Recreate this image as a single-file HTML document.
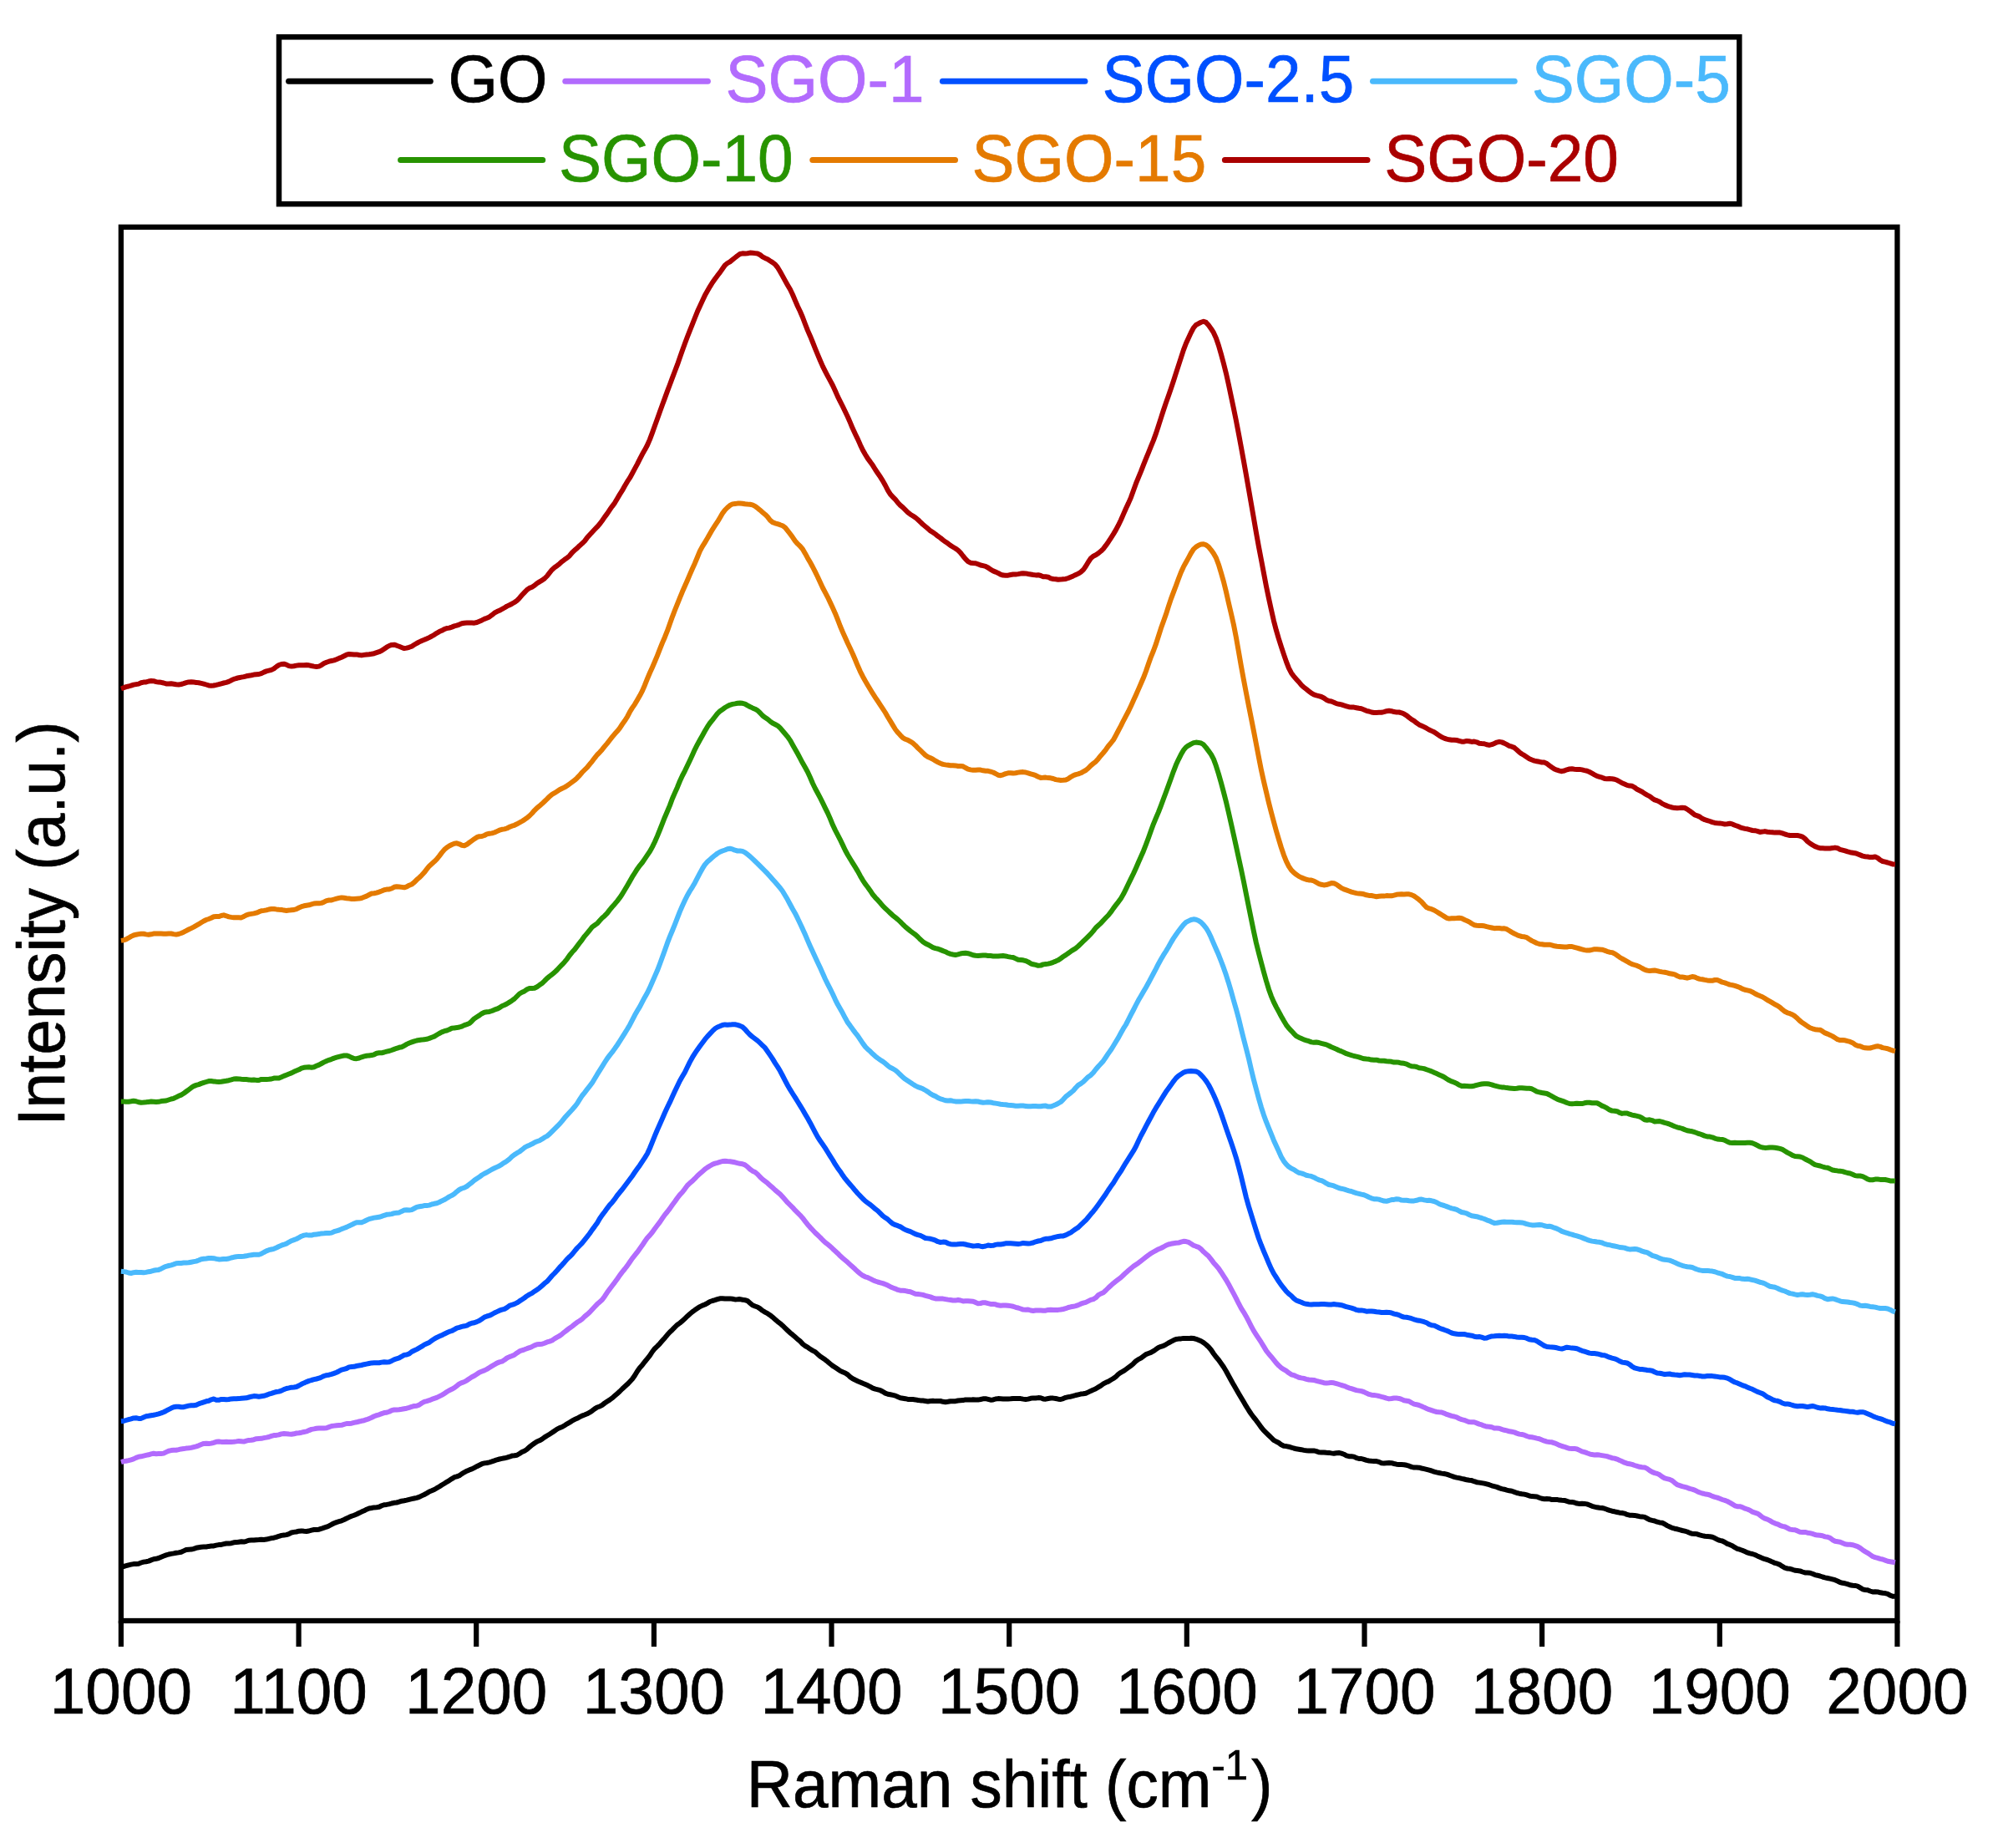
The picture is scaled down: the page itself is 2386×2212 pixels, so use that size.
<!DOCTYPE html>
<html lang="en"><head><meta charset="utf-8"><title>Raman spectra</title>
<style>
html,body{margin:0;padding:0;background:#fff;}
body{width:2386px;height:2212px;overflow:hidden;}
svg{display:block;}
text{font-family:"Liberation Sans", sans-serif;font-size:76.5px;stroke-width:0.7px;}
.curves path{fill:none;stroke-width:6;stroke-linejoin:round;stroke-linecap:butt;}
.ax line{stroke:#000;stroke-width:6.2;}
</style></head>
<body>
<svg width="2386" height="2212" viewBox="0 0 2386 2212">
<rect x="0" y="0" width="2386" height="2212" fill="#fff"/>
<defs><clipPath id="cp"><rect x="144.3" y="271.8" width="2127.5" height="1668.2"/></clipPath></defs>
<rect x="144.9" y="271.8" width="2126.5" height="1668.2" fill="none" stroke="#000" stroke-width="6.3"/>
<g class="curves" clip-path="url(#cp)">
<path d="M144.9,1875.5 L147.9,1875.0 L150.9,1874.2 L153.9,1873.3 L156.9,1872.6 L159.9,1872.1 L162.9,1872.0 L165.9,1871.7 L168.9,1870.5 L171.9,1869.6 L174.9,1869.2 L177.9,1868.6 L180.9,1867.4 L183.9,1866.3 L186.9,1865.8 L189.9,1865.0 L192.9,1863.7 L195.9,1862.5 L198.9,1861.4 L201.9,1860.5 L204.9,1859.9 L207.9,1859.4 L210.9,1858.8 L213.9,1858.4 L216.9,1857.8 L219.9,1856.4 L222.9,1855.0 L225.9,1854.7 L228.9,1854.6 L231.9,1853.8 L234.9,1852.8 L237.9,1852.2 L240.9,1851.7 L243.9,1851.6 L246.9,1851.5 L249.9,1850.9 L252.9,1850.6 L255.9,1850.4 L258.9,1849.6 L261.9,1849.1 L264.9,1848.9 L267.9,1848.2 L270.9,1847.5 L273.9,1847.5 L276.9,1847.2 L279.9,1846.3 L282.9,1846.1 L285.9,1845.7 L288.9,1845.3 L291.9,1845.6 L294.9,1844.8 L297.9,1843.7 L300.9,1843.6 L303.9,1843.6 L306.9,1843.3 L309.9,1843.1 L312.9,1842.8 L315.9,1842.9 L318.9,1842.6 L321.9,1841.8 L324.9,1841.1 L327.9,1840.7 L330.9,1839.9 L333.9,1838.8 L336.9,1837.9 L339.9,1837.5 L342.9,1837.1 L345.9,1836.1 L348.9,1834.5 L351.9,1833.9 L354.9,1833.5 L357.9,1832.7 L360.9,1832.4 L363.9,1832.8 L366.9,1833.0 L369.9,1832.5 L372.9,1831.6 L375.9,1831.0 L378.9,1831.0 L381.9,1830.7 L384.9,1829.7 L387.9,1828.6 L390.9,1827.7 L393.9,1826.4 L396.9,1824.8 L399.9,1823.3 L402.9,1822.1 L405.9,1821.2 L408.9,1820.3 L411.9,1819.0 L414.9,1817.5 L417.9,1816.1 L420.9,1814.8 L423.9,1813.7 L426.9,1812.5 L429.9,1811.0 L432.9,1809.6 L435.9,1808.3 L438.9,1806.7 L441.9,1805.5 L444.9,1805.0 L447.9,1804.4 L450.9,1804.2 L453.9,1803.8 L456.9,1802.3 L459.9,1801.2 L462.9,1800.9 L465.9,1800.4 L468.9,1799.5 L471.9,1798.8 L474.9,1798.5 L477.9,1797.7 L480.9,1796.7 L483.9,1796.2 L486.9,1795.6 L489.9,1794.8 L492.9,1794.1 L495.9,1793.5 L498.9,1792.9 L501.9,1791.9 L504.9,1790.4 L507.9,1789.0 L510.9,1787.4 L513.9,1785.5 L516.9,1784.3 L519.9,1783.0 L522.9,1781.2 L525.9,1779.5 L528.9,1777.5 L531.9,1775.7 L534.9,1773.8 L537.9,1772.1 L540.9,1770.1 L543.9,1768.2 L546.9,1767.4 L549.9,1766.2 L552.9,1764.1 L555.9,1762.3 L558.9,1760.7 L561.9,1759.4 L564.9,1758.4 L567.9,1756.8 L570.9,1755.2 L573.9,1753.7 L576.9,1752.2 L579.9,1751.4 L582.9,1751.0 L585.9,1750.3 L588.9,1749.4 L591.9,1748.4 L594.9,1747.3 L597.9,1746.5 L600.9,1745.9 L603.9,1745.3 L606.9,1744.6 L609.9,1743.7 L612.9,1742.6 L615.9,1742.3 L618.9,1741.8 L621.9,1740.0 L624.9,1738.0 L627.9,1736.7 L630.9,1734.8 L633.9,1732.0 L636.9,1729.7 L639.9,1727.5 L642.9,1725.5 L645.9,1724.3 L648.9,1722.6 L651.9,1720.4 L654.9,1718.5 L657.9,1716.7 L660.9,1714.8 L663.9,1712.7 L666.9,1710.6 L669.9,1709.1 L672.9,1708.0 L675.9,1706.2 L678.9,1704.3 L681.9,1702.6 L684.9,1700.7 L687.9,1699.1 L690.9,1697.8 L693.9,1696.2 L696.9,1694.6 L699.9,1693.5 L702.9,1692.3 L705.9,1690.7 L708.9,1688.7 L711.9,1686.4 L714.9,1684.5 L717.9,1683.5 L720.9,1681.8 L723.9,1679.5 L726.9,1677.5 L729.9,1675.6 L732.9,1673.4 L735.9,1670.8 L738.9,1668.2 L741.9,1665.5 L744.9,1662.5 L747.9,1659.8 L750.9,1657.1 L753.9,1654.0 L756.9,1650.8 L759.9,1646.5 L762.9,1641.4 L765.9,1637.2 L768.9,1633.9 L771.9,1630.0 L774.9,1626.4 L777.9,1622.7 L780.9,1618.0 L783.9,1614.2 L786.9,1611.4 L789.9,1608.3 L792.9,1604.8 L795.9,1601.4 L798.9,1597.8 L801.9,1594.5 L804.9,1591.7 L807.9,1588.6 L810.9,1585.7 L813.9,1583.6 L816.9,1581.2 L819.9,1578.3 L822.9,1575.4 L825.9,1572.7 L828.9,1570.2 L831.9,1568.1 L834.9,1566.1 L837.9,1564.1 L840.9,1562.6 L843.9,1561.5 L846.9,1559.9 L849.9,1558.0 L852.9,1557.0 L855.9,1556.2 L858.9,1555.2 L861.9,1554.3 L864.9,1554.3 L867.9,1554.6 L870.9,1554.5 L873.9,1554.4 L876.9,1554.8 L879.9,1555.4 L882.9,1555.3 L885.9,1555.1 L888.9,1555.7 L891.9,1556.1 L894.9,1557.1 L897.9,1559.7 L900.9,1562.3 L903.9,1563.5 L906.9,1564.5 L909.9,1566.4 L912.9,1568.8 L915.9,1570.6 L918.9,1572.2 L921.9,1574.2 L924.9,1576.6 L927.9,1579.2 L930.9,1581.8 L933.9,1584.1 L936.9,1586.7 L939.9,1589.6 L942.9,1592.5 L945.9,1595.3 L948.9,1597.7 L951.9,1600.3 L954.9,1602.9 L957.9,1605.4 L960.9,1608.6 L963.9,1611.0 L966.9,1612.6 L969.9,1614.8 L972.9,1616.6 L975.9,1618.1 L978.9,1620.9 L981.9,1623.6 L984.9,1625.6 L987.9,1627.6 L990.9,1629.9 L993.9,1632.5 L996.9,1634.9 L999.9,1636.8 L1002.9,1638.8 L1005.9,1640.9 L1008.9,1642.3 L1011.9,1643.5 L1014.9,1645.4 L1017.9,1648.2 L1020.9,1650.3 L1023.9,1651.8 L1026.9,1653.2 L1029.9,1654.5 L1032.9,1655.8 L1035.9,1657.0 L1038.9,1658.3 L1041.9,1659.9 L1044.9,1661.6 L1047.9,1662.6 L1050.9,1663.3 L1053.9,1664.2 L1056.9,1665.7 L1059.9,1667.6 L1062.9,1668.7 L1065.9,1669.3 L1068.9,1669.9 L1071.9,1670.6 L1074.9,1672.0 L1077.9,1673.2 L1080.9,1673.7 L1083.9,1674.2 L1086.9,1674.9 L1089.9,1675.1 L1092.9,1675.1 L1095.9,1675.4 L1098.9,1676.0 L1101.9,1676.4 L1104.9,1676.5 L1107.9,1677.0 L1110.9,1677.5 L1113.9,1677.0 L1116.9,1676.7 L1119.9,1677.1 L1122.9,1677.0 L1125.9,1677.0 L1128.9,1677.8 L1131.9,1678.3 L1134.9,1677.8 L1137.9,1677.2 L1140.9,1677.2 L1143.9,1677.2 L1146.9,1676.5 L1149.9,1676.2 L1152.9,1676.1 L1155.9,1675.4 L1158.9,1675.4 L1161.9,1675.6 L1164.9,1675.2 L1167.9,1675.4 L1170.9,1675.6 L1173.9,1675.0 L1176.9,1674.3 L1179.9,1674.2 L1182.9,1674.9 L1185.9,1675.7 L1188.9,1675.4 L1191.9,1674.5 L1194.9,1674.1 L1197.9,1674.3 L1200.9,1674.5 L1203.9,1674.4 L1206.9,1674.4 L1209.9,1674.3 L1212.9,1674.0 L1215.9,1674.0 L1218.9,1674.1 L1221.9,1674.1 L1224.9,1674.6 L1227.9,1675.0 L1230.9,1674.6 L1233.9,1673.8 L1236.9,1673.4 L1239.9,1673.5 L1242.9,1673.1 L1245.9,1673.3 L1248.9,1674.4 L1251.9,1674.7 L1254.9,1674.0 L1257.9,1673.5 L1260.9,1673.6 L1263.9,1674.0 L1266.9,1674.7 L1269.9,1675.0 L1272.9,1674.1 L1275.9,1672.8 L1278.9,1672.1 L1281.9,1671.7 L1284.9,1670.9 L1287.9,1670.0 L1290.9,1669.3 L1293.9,1668.6 L1296.9,1668.3 L1299.9,1667.8 L1302.9,1666.4 L1305.9,1664.9 L1308.9,1663.6 L1311.9,1662.2 L1314.9,1660.4 L1317.9,1658.6 L1320.9,1656.4 L1323.9,1654.8 L1326.9,1653.6 L1329.9,1651.8 L1332.9,1650.0 L1335.9,1647.8 L1338.9,1644.9 L1341.9,1642.8 L1344.9,1641.2 L1347.9,1639.1 L1350.9,1636.9 L1353.9,1634.8 L1356.9,1632.2 L1359.9,1629.2 L1362.9,1627.1 L1365.9,1625.6 L1368.9,1623.3 L1371.9,1621.1 L1374.9,1620.0 L1377.9,1618.9 L1380.9,1617.2 L1383.9,1615.1 L1386.9,1613.1 L1389.9,1611.8 L1392.9,1610.9 L1395.9,1609.3 L1398.9,1607.5 L1401.9,1605.9 L1404.9,1604.3 L1407.9,1603.0 L1410.9,1602.6 L1413.9,1602.4 L1416.9,1601.9 L1419.9,1602.1 L1422.9,1602.1 L1425.9,1601.7 L1428.9,1602.0 L1431.9,1602.8 L1434.9,1604.0 L1437.9,1605.3 L1440.9,1607.1 L1443.9,1609.5 L1446.9,1612.3 L1449.9,1615.8 L1452.9,1620.2 L1455.9,1624.2 L1458.9,1627.7 L1461.9,1631.9 L1464.9,1636.3 L1467.9,1641.2 L1470.9,1646.7 L1473.9,1652.2 L1476.9,1657.6 L1479.9,1662.7 L1482.9,1667.9 L1485.9,1673.0 L1488.9,1678.1 L1491.9,1683.2 L1494.9,1688.0 L1497.9,1692.5 L1500.9,1696.5 L1503.9,1700.2 L1506.9,1704.3 L1509.9,1708.5 L1512.9,1712.1 L1515.9,1715.1 L1518.9,1718.0 L1521.9,1720.9 L1524.9,1723.8 L1527.9,1725.5 L1530.9,1727.0 L1533.9,1729.3 L1536.9,1730.8 L1539.9,1731.1 L1542.9,1731.7 L1545.9,1732.6 L1548.9,1733.5 L1551.9,1734.3 L1554.9,1734.7 L1557.9,1735.2 L1560.9,1735.9 L1563.9,1736.3 L1566.9,1736.6 L1569.9,1736.6 L1572.9,1736.4 L1575.9,1737.1 L1578.9,1738.3 L1581.9,1738.5 L1584.9,1738.4 L1587.9,1738.7 L1590.9,1738.9 L1593.9,1739.4 L1596.9,1739.8 L1599.9,1739.2 L1602.9,1739.0 L1605.9,1739.6 L1608.9,1740.7 L1611.9,1742.3 L1614.9,1743.2 L1617.9,1743.2 L1620.9,1743.6 L1623.9,1745.1 L1626.9,1746.0 L1629.9,1746.0 L1632.9,1746.9 L1635.9,1747.9 L1638.9,1748.5 L1641.9,1748.8 L1644.9,1748.9 L1647.9,1749.1 L1650.9,1749.9 L1653.9,1751.3 L1656.9,1751.6 L1659.9,1751.3 L1662.9,1751.0 L1665.9,1751.2 L1668.9,1752.0 L1671.9,1752.7 L1674.9,1753.0 L1677.9,1753.1 L1680.9,1753.2 L1683.9,1753.8 L1686.9,1754.7 L1689.9,1755.9 L1692.9,1756.6 L1695.9,1756.4 L1698.9,1756.7 L1701.9,1757.5 L1704.9,1758.2 L1707.9,1758.9 L1710.9,1759.7 L1713.9,1760.5 L1716.9,1761.6 L1719.9,1762.4 L1722.9,1763.0 L1725.9,1763.6 L1728.9,1764.0 L1731.9,1764.7 L1734.9,1765.7 L1737.9,1766.8 L1740.9,1767.9 L1743.9,1768.6 L1746.9,1769.1 L1749.9,1769.9 L1752.9,1770.5 L1755.9,1771.3 L1758.9,1771.8 L1761.9,1772.1 L1764.9,1773.2 L1767.9,1774.2 L1770.9,1774.6 L1773.9,1775.1 L1776.9,1775.6 L1779.9,1776.3 L1782.9,1777.2 L1785.9,1778.3 L1788.9,1779.1 L1791.9,1779.9 L1794.9,1781.1 L1797.9,1782.1 L1800.9,1782.7 L1803.9,1783.6 L1806.9,1784.3 L1809.9,1784.8 L1812.9,1785.9 L1815.9,1787.0 L1818.9,1787.7 L1821.9,1788.2 L1824.9,1788.6 L1827.9,1789.4 L1830.9,1790.5 L1833.9,1791.1 L1836.9,1791.3 L1839.9,1791.5 L1842.9,1792.7 L1845.9,1793.8 L1848.9,1794.3 L1851.9,1794.1 L1854.9,1794.2 L1857.9,1795.1 L1860.9,1795.1 L1863.9,1794.9 L1866.9,1795.6 L1869.9,1795.8 L1872.9,1795.9 L1875.9,1796.9 L1878.9,1797.8 L1881.9,1797.9 L1884.9,1798.5 L1887.9,1799.6 L1890.9,1799.9 L1893.9,1799.8 L1896.9,1799.9 L1899.9,1800.4 L1902.9,1801.5 L1905.9,1802.8 L1908.9,1803.6 L1911.9,1804.3 L1914.9,1804.8 L1917.9,1805.0 L1920.9,1805.7 L1923.9,1806.8 L1926.9,1807.8 L1929.9,1808.7 L1932.9,1809.3 L1935.9,1810.0 L1938.9,1810.7 L1941.9,1811.0 L1944.9,1811.6 L1947.9,1812.9 L1950.9,1813.7 L1953.9,1813.8 L1956.9,1813.9 L1959.9,1814.5 L1962.9,1815.2 L1965.9,1815.4 L1968.9,1815.9 L1971.9,1817.5 L1974.9,1819.1 L1977.9,1819.9 L1980.9,1820.5 L1983.9,1821.7 L1986.9,1822.4 L1989.9,1822.7 L1992.9,1824.2 L1995.9,1826.1 L1998.9,1827.5 L2001.9,1828.9 L2004.9,1829.7 L2007.9,1830.3 L2010.9,1831.2 L2013.9,1832.0 L2016.9,1832.6 L2019.9,1833.5 L2022.9,1834.9 L2025.9,1835.8 L2028.9,1835.9 L2031.9,1836.3 L2034.9,1837.3 L2037.9,1838.1 L2040.9,1838.7 L2043.9,1839.1 L2046.9,1839.2 L2049.9,1839.8 L2052.9,1841.1 L2055.9,1842.7 L2058.9,1843.9 L2061.9,1844.5 L2064.9,1846.0 L2067.9,1847.9 L2070.9,1848.9 L2073.9,1850.2 L2076.9,1852.2 L2079.9,1853.8 L2082.9,1854.7 L2085.9,1855.8 L2088.9,1857.1 L2091.9,1858.4 L2094.9,1859.4 L2097.9,1860.0 L2100.9,1861.0 L2103.9,1862.4 L2106.9,1863.7 L2109.9,1865.1 L2112.9,1866.2 L2115.9,1867.0 L2118.9,1868.2 L2121.9,1869.6 L2124.9,1870.9 L2127.9,1871.7 L2130.9,1872.9 L2133.9,1874.9 L2136.9,1876.7 L2139.9,1877.5 L2142.9,1877.8 L2145.9,1878.7 L2148.9,1879.8 L2151.9,1880.1 L2154.9,1880.4 L2157.9,1881.5 L2160.9,1882.4 L2163.9,1882.5 L2166.9,1882.7 L2169.9,1883.8 L2172.9,1885.1 L2175.9,1885.7 L2178.9,1886.5 L2181.9,1887.5 L2184.9,1888.3 L2187.9,1889.0 L2190.9,1889.7 L2193.9,1890.4 L2196.9,1891.2 L2199.9,1892.5 L2202.9,1894.0 L2205.9,1894.8 L2208.9,1895.3 L2211.9,1896.1 L2214.9,1897.2 L2217.9,1897.8 L2220.9,1897.9 L2223.9,1898.6 L2226.9,1900.4 L2229.9,1902.3 L2232.9,1903.0 L2235.9,1903.3 L2238.9,1904.5 L2241.9,1905.4 L2244.9,1905.2 L2247.9,1905.4 L2250.9,1906.3 L2253.9,1906.8 L2256.9,1907.1 L2259.9,1907.9 L2262.9,1909.6 L2265.9,1910.7 L2268.9,1910.8" stroke="#000000"/>
<path d="M144.9,1750.1 L147.9,1749.1 L150.9,1748.7 L153.9,1748.1 L156.9,1747.3 L159.9,1746.4 L162.9,1744.9 L165.9,1743.7 L168.9,1743.3 L171.9,1742.6 L174.9,1741.9 L177.9,1741.3 L180.9,1740.4 L183.9,1739.8 L186.9,1740.2 L189.9,1740.1 L192.9,1740.0 L195.9,1739.6 L198.9,1738.1 L201.9,1736.7 L204.9,1736.1 L207.9,1735.8 L210.9,1735.7 L213.9,1735.1 L216.9,1734.4 L219.9,1734.1 L222.9,1733.6 L225.9,1733.3 L228.9,1732.9 L231.9,1732.1 L234.9,1731.3 L237.9,1730.3 L240.9,1729.0 L243.9,1727.9 L246.9,1727.8 L249.9,1728.1 L252.9,1727.6 L255.9,1726.8 L258.9,1725.8 L261.9,1725.5 L264.9,1725.9 L267.9,1725.9 L270.9,1725.8 L273.9,1725.9 L276.9,1725.9 L279.9,1725.8 L282.9,1725.4 L285.9,1724.9 L288.9,1725.2 L291.9,1725.6 L294.9,1724.7 L297.9,1723.9 L300.9,1723.8 L303.9,1723.2 L306.9,1722.2 L309.9,1721.9 L312.9,1721.8 L315.9,1721.1 L318.9,1720.6 L321.9,1720.0 L324.9,1718.9 L327.9,1718.1 L330.9,1717.9 L333.9,1717.4 L336.9,1716.4 L339.9,1716.0 L342.9,1716.3 L345.9,1716.6 L348.9,1716.8 L351.9,1716.3 L354.9,1715.5 L357.9,1715.3 L360.9,1714.7 L363.9,1714.0 L366.9,1713.4 L369.9,1712.1 L372.9,1710.9 L375.9,1710.4 L378.9,1709.8 L381.9,1709.5 L384.9,1709.6 L387.9,1709.5 L390.9,1709.3 L393.9,1708.1 L396.9,1707.0 L399.9,1706.6 L402.9,1706.2 L405.9,1705.9 L408.9,1705.8 L411.9,1704.9 L414.9,1704.0 L417.9,1704.0 L420.9,1703.7 L423.9,1702.9 L426.9,1702.3 L429.9,1701.5 L432.9,1700.8 L435.9,1700.2 L438.9,1699.2 L441.9,1698.1 L444.9,1696.7 L447.9,1695.2 L450.9,1694.1 L453.9,1693.3 L456.9,1692.1 L459.9,1691.1 L462.9,1690.8 L465.9,1689.7 L468.9,1688.2 L471.9,1687.5 L474.9,1687.5 L477.9,1687.3 L480.9,1686.8 L483.9,1686.2 L486.9,1685.7 L489.9,1684.9 L492.9,1683.8 L495.9,1682.9 L498.9,1682.7 L501.9,1681.6 L504.9,1679.5 L507.9,1677.8 L510.9,1677.1 L513.9,1676.2 L516.9,1674.9 L519.9,1673.9 L522.9,1672.9 L525.9,1671.4 L528.9,1669.9 L531.9,1668.2 L534.9,1666.0 L537.9,1664.2 L540.9,1662.8 L543.9,1661.1 L546.9,1658.8 L549.9,1656.4 L552.9,1655.1 L555.9,1654.0 L558.9,1652.3 L561.9,1650.2 L564.9,1648.3 L567.9,1646.8 L570.9,1644.8 L573.9,1642.7 L576.9,1641.5 L579.9,1640.4 L582.9,1638.9 L585.9,1637.0 L588.9,1635.1 L591.9,1633.4 L594.9,1631.6 L597.9,1630.4 L600.9,1629.7 L603.9,1627.8 L606.9,1625.5 L609.9,1624.1 L612.9,1623.0 L615.9,1621.7 L618.9,1619.4 L621.9,1617.4 L624.9,1616.3 L627.9,1615.3 L630.9,1614.2 L633.9,1613.2 L636.9,1611.9 L639.9,1610.4 L642.9,1609.2 L645.9,1609.0 L648.9,1608.8 L651.9,1607.7 L654.9,1606.4 L657.9,1605.6 L660.9,1604.5 L663.9,1602.4 L666.9,1600.6 L669.9,1599.0 L672.9,1596.8 L675.9,1594.3 L678.9,1592.0 L681.9,1589.7 L684.9,1587.6 L687.9,1585.2 L690.9,1582.8 L693.9,1581.0 L696.9,1578.8 L699.9,1575.9 L702.9,1573.4 L705.9,1570.7 L708.9,1567.4 L711.9,1564.2 L714.9,1561.1 L717.9,1558.5 L720.9,1555.8 L723.9,1551.7 L726.9,1547.1 L729.9,1543.0 L732.9,1539.0 L735.9,1535.1 L738.9,1531.0 L741.9,1526.6 L744.9,1522.7 L747.9,1519.0 L750.9,1515.1 L753.9,1510.7 L756.9,1506.4 L759.9,1502.7 L762.9,1498.9 L765.9,1494.8 L768.9,1490.6 L771.9,1486.0 L774.9,1481.8 L777.9,1478.6 L780.9,1475.0 L783.9,1470.8 L786.9,1466.8 L789.9,1462.9 L792.9,1458.4 L795.9,1454.1 L798.9,1450.5 L801.9,1446.6 L804.9,1442.3 L807.9,1438.3 L810.9,1434.0 L813.9,1430.1 L816.9,1427.0 L819.9,1423.1 L822.9,1419.0 L825.9,1416.1 L828.9,1413.7 L831.9,1410.7 L834.9,1407.5 L837.9,1404.8 L840.9,1402.2 L843.9,1399.5 L846.9,1397.4 L849.9,1395.5 L852.9,1393.8 L855.9,1392.6 L858.9,1391.8 L861.9,1390.9 L864.9,1390.0 L867.9,1389.8 L870.9,1390.1 L873.9,1390.3 L876.9,1390.7 L879.9,1391.3 L882.9,1392.1 L885.9,1392.8 L888.9,1393.2 L891.9,1394.4 L894.9,1396.6 L897.9,1399.5 L900.9,1401.7 L903.9,1403.0 L906.9,1405.5 L909.9,1408.8 L912.9,1411.6 L915.9,1413.9 L918.9,1416.2 L921.9,1418.9 L924.9,1421.6 L927.9,1424.4 L930.9,1426.9 L933.9,1429.4 L936.9,1432.6 L939.9,1436.0 L942.9,1439.4 L945.9,1442.3 L948.9,1445.3 L951.9,1448.7 L954.9,1451.7 L957.9,1454.6 L960.9,1457.9 L963.9,1461.8 L966.9,1465.7 L969.9,1469.1 L972.9,1472.3 L975.9,1475.5 L978.9,1478.3 L981.9,1481.1 L984.9,1484.3 L987.9,1487.1 L990.9,1489.4 L993.9,1491.8 L996.9,1494.7 L999.9,1497.4 L1002.9,1500.2 L1005.9,1503.3 L1008.9,1506.0 L1011.9,1508.5 L1014.9,1511.1 L1017.9,1513.9 L1020.9,1516.6 L1023.9,1519.3 L1026.9,1522.2 L1029.9,1524.6 L1032.9,1526.8 L1035.9,1528.3 L1038.9,1529.2 L1041.9,1530.6 L1044.9,1532.2 L1047.9,1533.5 L1050.9,1534.5 L1053.9,1535.3 L1056.9,1536.1 L1059.9,1537.3 L1062.9,1538.6 L1065.9,1540.2 L1068.9,1541.5 L1071.9,1542.6 L1074.9,1543.9 L1077.9,1544.7 L1080.9,1544.8 L1083.9,1545.1 L1086.9,1545.7 L1089.9,1546.2 L1092.9,1547.5 L1095.9,1548.7 L1098.9,1549.0 L1101.9,1549.4 L1104.9,1549.9 L1107.9,1550.8 L1110.9,1551.6 L1113.9,1552.4 L1116.9,1553.6 L1119.9,1554.4 L1122.9,1554.5 L1125.9,1554.4 L1128.9,1554.6 L1131.9,1555.1 L1134.9,1555.6 L1137.9,1556.0 L1140.9,1556.5 L1143.9,1556.6 L1146.9,1556.0 L1149.9,1556.5 L1152.9,1557.4 L1155.9,1557.3 L1158.9,1557.3 L1161.9,1557.5 L1164.9,1557.7 L1167.9,1558.9 L1170.9,1560.2 L1173.9,1560.0 L1176.9,1559.2 L1179.9,1559.3 L1182.9,1560.2 L1185.9,1560.9 L1188.9,1560.9 L1191.9,1561.3 L1194.9,1562.3 L1197.9,1562.8 L1200.9,1562.6 L1203.9,1562.4 L1206.9,1562.7 L1209.9,1563.1 L1212.9,1563.7 L1215.9,1564.8 L1218.9,1565.5 L1221.9,1566.5 L1224.9,1567.6 L1227.9,1567.7 L1230.9,1567.6 L1233.9,1568.5 L1236.9,1569.0 L1239.9,1568.5 L1242.9,1568.4 L1245.9,1568.5 L1248.9,1568.7 L1251.9,1568.7 L1254.9,1567.9 L1257.9,1567.7 L1260.9,1568.0 L1263.9,1568.0 L1266.9,1567.9 L1269.9,1567.5 L1272.9,1567.0 L1275.9,1566.2 L1278.9,1565.0 L1281.9,1564.3 L1284.9,1563.8 L1287.9,1563.1 L1290.9,1562.1 L1293.9,1560.7 L1296.9,1559.7 L1299.9,1558.9 L1302.9,1557.4 L1305.9,1555.9 L1308.9,1555.1 L1311.9,1553.3 L1314.9,1550.2 L1317.9,1548.5 L1320.9,1547.2 L1323.9,1544.5 L1326.9,1541.5 L1329.9,1538.7 L1332.9,1536.1 L1335.9,1533.7 L1338.9,1531.4 L1341.9,1529.1 L1344.9,1526.3 L1347.9,1523.4 L1350.9,1520.8 L1353.9,1518.3 L1356.9,1515.8 L1359.9,1513.7 L1362.9,1511.7 L1365.9,1509.4 L1368.9,1507.0 L1371.9,1504.7 L1374.9,1502.4 L1377.9,1500.3 L1380.9,1498.5 L1383.9,1496.8 L1386.9,1495.2 L1389.9,1494.0 L1392.9,1492.5 L1395.9,1490.7 L1398.9,1489.5 L1401.9,1488.8 L1404.9,1488.2 L1407.9,1487.8 L1410.9,1487.6 L1413.9,1486.6 L1416.9,1485.8 L1419.9,1486.1 L1422.9,1486.9 L1425.9,1488.7 L1428.9,1490.7 L1431.9,1491.8 L1434.9,1492.8 L1437.9,1495.2 L1440.9,1498.3 L1443.9,1500.9 L1446.9,1503.6 L1449.9,1507.4 L1452.9,1511.4 L1455.9,1514.8 L1458.9,1518.3 L1461.9,1522.7 L1464.9,1527.4 L1467.9,1532.0 L1470.9,1537.2 L1473.9,1542.9 L1476.9,1548.4 L1479.9,1554.1 L1482.9,1560.2 L1485.9,1565.9 L1488.9,1570.6 L1491.9,1575.7 L1494.9,1581.4 L1497.9,1587.3 L1500.9,1592.9 L1503.9,1597.6 L1506.9,1602.1 L1509.9,1606.7 L1512.9,1611.6 L1515.9,1616.6 L1518.9,1620.5 L1521.9,1623.9 L1524.9,1627.6 L1527.9,1631.4 L1530.9,1634.6 L1533.9,1637.2 L1536.9,1639.2 L1539.9,1640.9 L1542.9,1643.3 L1545.9,1645.3 L1548.9,1646.1 L1551.9,1647.4 L1554.9,1648.8 L1557.9,1649.4 L1560.9,1649.9 L1563.9,1650.8 L1566.9,1651.5 L1569.9,1651.7 L1572.9,1651.9 L1575.9,1652.8 L1578.9,1653.6 L1581.9,1654.3 L1584.9,1655.2 L1587.9,1655.6 L1590.9,1655.3 L1593.9,1654.9 L1596.9,1655.3 L1599.9,1656.1 L1602.9,1657.0 L1605.9,1658.0 L1608.9,1658.8 L1611.9,1660.1 L1614.9,1661.3 L1617.9,1662.1 L1620.9,1663.1 L1623.9,1664.1 L1626.9,1664.6 L1629.9,1665.1 L1632.9,1666.1 L1635.9,1667.6 L1638.9,1668.9 L1641.9,1669.7 L1644.9,1670.0 L1647.9,1670.4 L1650.9,1671.0 L1653.9,1671.9 L1656.9,1672.7 L1659.9,1673.7 L1662.9,1674.4 L1665.9,1674.0 L1668.9,1673.5 L1671.9,1673.6 L1674.9,1673.9 L1677.9,1674.9 L1680.9,1676.3 L1683.9,1676.8 L1686.9,1677.3 L1689.9,1679.1 L1692.9,1680.6 L1695.9,1681.2 L1698.9,1682.0 L1701.9,1683.2 L1704.9,1684.6 L1707.9,1685.9 L1710.9,1687.2 L1713.9,1688.2 L1716.9,1689.2 L1719.9,1690.0 L1722.9,1690.3 L1725.9,1690.5 L1728.9,1691.6 L1731.9,1692.9 L1734.9,1693.9 L1737.9,1694.9 L1740.9,1695.5 L1743.9,1696.4 L1746.9,1698.0 L1749.9,1699.1 L1752.9,1699.8 L1755.9,1701.0 L1758.9,1702.1 L1761.9,1702.2 L1764.9,1702.3 L1767.9,1703.4 L1770.9,1704.6 L1773.9,1705.4 L1776.9,1706.7 L1779.9,1707.6 L1782.9,1707.7 L1785.9,1708.3 L1788.9,1709.5 L1791.9,1709.6 L1794.9,1709.8 L1797.9,1710.9 L1800.9,1711.8 L1803.9,1712.4 L1806.9,1713.3 L1809.9,1713.8 L1812.9,1714.4 L1815.9,1715.6 L1818.9,1716.6 L1821.9,1717.0 L1824.9,1717.7 L1827.9,1719.0 L1830.9,1720.0 L1833.9,1720.3 L1836.9,1720.9 L1839.9,1721.6 L1842.9,1722.2 L1845.9,1723.5 L1848.9,1724.7 L1851.9,1725.6 L1854.9,1726.0 L1857.9,1726.3 L1860.9,1727.3 L1863.9,1728.6 L1866.9,1729.9 L1869.9,1731.0 L1872.9,1731.8 L1875.9,1732.9 L1878.9,1733.8 L1881.9,1733.9 L1884.9,1733.9 L1887.9,1734.5 L1890.9,1735.9 L1893.9,1737.4 L1896.9,1738.2 L1899.9,1739.2 L1902.9,1740.3 L1905.9,1741.1 L1908.9,1741.4 L1911.9,1741.3 L1914.9,1741.6 L1917.9,1742.1 L1920.9,1742.6 L1923.9,1743.1 L1926.9,1744.2 L1929.9,1745.2 L1932.9,1745.6 L1935.9,1746.6 L1938.9,1747.9 L1941.9,1749.3 L1944.9,1750.7 L1947.9,1751.7 L1950.9,1752.3 L1953.9,1752.9 L1956.9,1754.0 L1959.9,1754.9 L1962.9,1755.8 L1965.9,1756.2 L1968.9,1756.4 L1971.9,1757.9 L1974.9,1760.1 L1977.9,1761.9 L1980.9,1763.1 L1983.9,1763.9 L1986.9,1765.3 L1989.9,1767.6 L1992.9,1769.4 L1995.9,1770.2 L1998.9,1770.9 L2001.9,1772.3 L2004.9,1774.8 L2007.9,1777.1 L2010.9,1778.1 L2013.9,1779.1 L2016.9,1779.8 L2019.9,1780.7 L2022.9,1781.9 L2025.9,1782.6 L2028.9,1783.6 L2031.9,1785.2 L2034.9,1786.5 L2037.9,1787.5 L2040.9,1788.2 L2043.9,1788.7 L2046.9,1789.5 L2049.9,1790.9 L2052.9,1791.8 L2055.9,1792.6 L2058.9,1793.8 L2061.9,1795.0 L2064.9,1795.9 L2067.9,1797.0 L2070.9,1798.6 L2073.9,1800.4 L2076.9,1802.3 L2079.9,1803.2 L2082.9,1803.2 L2085.9,1804.1 L2088.9,1805.6 L2091.9,1806.5 L2094.9,1807.8 L2097.9,1809.6 L2100.9,1810.6 L2103.9,1811.6 L2106.9,1813.6 L2109.9,1816.0 L2112.9,1817.7 L2115.9,1818.6 L2118.9,1820.1 L2121.9,1822.0 L2124.9,1823.3 L2127.9,1824.3 L2130.9,1825.8 L2133.9,1826.8 L2136.9,1827.5 L2139.9,1829.0 L2142.9,1830.6 L2145.9,1831.0 L2148.9,1831.2 L2151.9,1832.4 L2154.9,1833.7 L2157.9,1833.9 L2160.9,1833.9 L2163.9,1834.7 L2166.9,1835.1 L2169.9,1835.9 L2172.9,1837.0 L2175.9,1837.6 L2178.9,1837.8 L2181.9,1838.3 L2184.9,1839.4 L2187.9,1839.8 L2190.9,1840.9 L2193.9,1843.2 L2196.9,1844.7 L2199.9,1845.2 L2202.9,1845.7 L2205.9,1847.0 L2208.9,1848.3 L2211.9,1848.8 L2214.9,1848.8 L2217.9,1849.2 L2220.9,1850.1 L2223.9,1851.1 L2226.9,1852.9 L2229.9,1855.2 L2232.9,1857.1 L2235.9,1858.8 L2238.9,1860.9 L2241.9,1863.0 L2244.9,1864.1 L2247.9,1864.9 L2250.9,1865.9 L2253.9,1866.5 L2256.9,1867.6 L2259.9,1868.7 L2262.9,1869.2 L2265.9,1869.7 L2268.9,1870.3" stroke="#B26BFD"/>
<path d="M144.9,1701.1 L147.9,1700.9 L150.9,1700.0 L153.9,1699.1 L156.9,1698.3 L159.9,1697.4 L162.9,1697.3 L165.9,1697.9 L168.9,1697.9 L171.9,1696.5 L174.9,1695.3 L177.9,1694.8 L180.9,1694.2 L183.9,1693.7 L186.9,1693.1 L189.9,1692.3 L192.9,1691.4 L195.9,1690.2 L198.9,1688.7 L201.9,1687.1 L204.9,1685.6 L207.9,1684.3 L210.9,1683.7 L213.9,1683.7 L216.9,1684.2 L219.9,1684.2 L222.9,1683.3 L225.9,1682.6 L228.9,1682.2 L231.9,1682.2 L234.9,1681.8 L237.9,1680.4 L240.9,1679.3 L243.9,1678.3 L246.9,1677.3 L249.9,1676.7 L252.9,1675.3 L255.9,1674.5 L258.9,1675.7 L261.9,1675.8 L264.9,1674.9 L267.9,1675.0 L270.9,1675.3 L273.9,1675.0 L276.9,1674.4 L279.9,1674.2 L282.9,1674.3 L285.9,1674.1 L288.9,1673.7 L291.9,1673.5 L294.9,1673.3 L297.9,1672.5 L300.9,1671.7 L303.9,1671.1 L306.9,1671.3 L309.9,1671.8 L312.9,1671.3 L315.9,1670.8 L318.9,1669.9 L321.9,1668.7 L324.9,1667.8 L327.9,1666.8 L330.9,1666.0 L333.9,1665.6 L336.9,1664.6 L339.9,1663.1 L342.9,1662.0 L345.9,1661.4 L348.9,1660.7 L351.9,1660.5 L354.9,1660.0 L357.9,1658.5 L360.9,1656.8 L363.9,1655.4 L366.9,1654.1 L369.9,1652.9 L372.9,1652.0 L375.9,1651.2 L378.9,1650.5 L381.9,1649.7 L384.9,1648.4 L387.9,1647.0 L390.9,1646.1 L393.9,1645.7 L396.9,1644.9 L399.9,1643.9 L402.9,1642.7 L405.9,1641.2 L408.9,1639.6 L411.9,1638.8 L414.9,1638.0 L417.9,1636.4 L420.9,1636.0 L423.9,1635.8 L426.9,1635.0 L429.9,1634.5 L432.9,1634.0 L435.9,1633.2 L438.9,1632.6 L441.9,1632.0 L444.9,1631.4 L447.9,1631.3 L450.9,1631.2 L453.9,1631.2 L456.9,1630.6 L459.9,1630.2 L462.9,1630.5 L465.9,1630.2 L468.9,1628.9 L471.9,1627.4 L474.9,1626.3 L477.9,1625.4 L480.9,1623.7 L483.9,1621.9 L486.9,1621.5 L489.9,1620.4 L492.9,1618.0 L495.9,1616.5 L498.9,1615.1 L501.9,1613.4 L504.9,1611.7 L507.9,1609.6 L510.9,1608.2 L513.9,1606.9 L516.9,1604.7 L519.9,1602.6 L522.9,1600.9 L525.9,1599.6 L528.9,1598.3 L531.9,1596.7 L534.9,1595.3 L537.9,1593.9 L540.9,1593.0 L543.9,1591.4 L546.9,1589.6 L549.9,1588.8 L552.9,1587.9 L555.9,1587.3 L558.9,1586.6 L561.9,1584.9 L564.9,1583.7 L567.9,1583.2 L570.9,1582.1 L573.9,1580.7 L576.9,1578.7 L579.9,1576.6 L582.9,1575.5 L585.9,1574.7 L588.9,1573.3 L591.9,1571.5 L594.9,1570.1 L597.9,1568.7 L600.9,1567.7 L603.9,1566.9 L606.9,1565.1 L609.9,1562.9 L612.9,1561.8 L615.9,1560.9 L618.9,1559.4 L621.9,1557.4 L624.9,1555.5 L627.9,1553.5 L630.9,1551.2 L633.9,1549.4 L636.9,1547.9 L639.9,1545.7 L642.9,1543.7 L645.9,1541.6 L648.9,1538.9 L651.9,1536.2 L654.9,1533.9 L657.9,1530.5 L660.9,1527.0 L663.9,1524.0 L666.9,1520.7 L669.9,1517.2 L672.9,1514.1 L675.9,1510.7 L678.9,1507.1 L681.9,1504.3 L684.9,1501.3 L687.9,1497.7 L690.9,1494.0 L693.9,1491.0 L696.9,1487.9 L699.9,1484.1 L702.9,1480.3 L705.9,1476.5 L708.9,1472.1 L711.9,1468.1 L714.9,1463.9 L717.9,1458.8 L720.9,1454.4 L723.9,1450.5 L726.9,1446.3 L729.9,1442.4 L732.9,1439.2 L735.9,1435.4 L738.9,1431.0 L741.9,1427.3 L744.9,1423.8 L747.9,1419.8 L750.9,1415.8 L753.9,1411.8 L756.9,1407.7 L759.9,1403.3 L762.9,1399.1 L765.9,1394.9 L768.9,1390.3 L771.9,1385.9 L774.9,1381.0 L777.9,1374.5 L780.9,1367.1 L783.9,1359.7 L786.9,1352.5 L789.9,1345.8 L792.9,1339.1 L795.9,1332.0 L798.9,1325.5 L801.9,1319.4 L804.9,1312.8 L807.9,1306.3 L810.9,1299.9 L813.9,1293.8 L816.9,1288.6 L819.9,1283.5 L822.9,1277.2 L825.9,1271.1 L828.9,1265.7 L831.9,1260.9 L834.9,1256.4 L837.9,1252.2 L840.9,1248.2 L843.9,1244.2 L846.9,1240.6 L849.9,1237.4 L852.9,1234.2 L855.9,1231.3 L858.9,1229.5 L861.9,1228.3 L864.9,1227.0 L867.9,1226.4 L870.9,1226.7 L873.9,1226.6 L876.9,1226.2 L879.9,1226.3 L882.9,1226.9 L885.9,1227.9 L888.9,1229.3 L891.9,1232.0 L894.9,1235.5 L897.9,1238.6 L900.9,1241.1 L903.9,1243.3 L906.9,1245.6 L909.9,1248.4 L912.9,1251.3 L915.9,1254.2 L918.9,1258.5 L921.9,1262.9 L924.9,1267.4 L927.9,1272.4 L930.9,1276.9 L933.9,1281.8 L936.9,1287.5 L939.9,1293.4 L942.9,1299.0 L945.9,1304.2 L948.9,1309.0 L951.9,1313.6 L954.9,1318.5 L957.9,1323.3 L960.9,1328.2 L963.9,1333.5 L966.9,1338.6 L969.9,1343.9 L972.9,1349.6 L975.9,1355.4 L978.9,1360.9 L981.9,1365.5 L984.9,1369.7 L987.9,1374.1 L990.9,1379.0 L993.9,1383.8 L996.9,1388.5 L999.9,1393.7 L1002.9,1398.2 L1005.9,1402.2 L1008.9,1406.8 L1011.9,1410.9 L1014.9,1414.5 L1017.9,1417.9 L1020.9,1421.4 L1023.9,1425.1 L1026.9,1428.5 L1029.9,1431.6 L1032.9,1434.8 L1035.9,1437.6 L1038.9,1439.8 L1041.9,1442.0 L1044.9,1444.6 L1047.9,1447.1 L1050.9,1449.3 L1053.9,1452.3 L1056.9,1455.4 L1059.9,1457.6 L1062.9,1459.6 L1065.9,1462.4 L1068.9,1464.8 L1071.9,1466.2 L1074.9,1467.2 L1077.9,1468.4 L1080.9,1470.3 L1083.9,1472.0 L1086.9,1473.1 L1089.9,1474.1 L1092.9,1475.6 L1095.9,1477.2 L1098.9,1478.2 L1101.9,1478.9 L1104.9,1480.4 L1107.9,1482.0 L1110.9,1482.4 L1113.9,1482.8 L1116.9,1483.7 L1119.9,1484.7 L1122.9,1486.2 L1125.9,1487.0 L1128.9,1486.6 L1131.9,1486.8 L1134.9,1488.3 L1137.9,1489.2 L1140.9,1489.5 L1143.9,1489.6 L1146.9,1489.2 L1149.9,1489.1 L1152.9,1489.0 L1155.9,1489.5 L1158.9,1490.3 L1161.9,1490.9 L1164.9,1491.5 L1167.9,1491.3 L1170.9,1491.0 L1173.9,1491.7 L1176.9,1492.2 L1179.9,1491.5 L1182.9,1490.6 L1185.9,1490.9 L1188.9,1490.8 L1191.9,1489.9 L1194.9,1489.4 L1197.9,1489.5 L1200.9,1489.0 L1203.9,1488.3 L1206.9,1488.2 L1209.9,1488.3 L1212.9,1488.5 L1215.9,1488.8 L1218.9,1489.1 L1221.9,1488.6 L1224.9,1487.9 L1227.9,1488.2 L1230.9,1488.5 L1233.9,1488.2 L1236.9,1487.5 L1239.9,1486.3 L1242.9,1485.5 L1245.9,1485.0 L1248.9,1483.7 L1251.9,1482.8 L1254.9,1482.8 L1257.9,1482.3 L1260.9,1481.4 L1263.9,1480.6 L1266.9,1479.9 L1269.9,1479.6 L1272.9,1479.4 L1275.9,1478.4 L1278.9,1476.8 L1281.9,1475.4 L1284.9,1473.2 L1287.9,1471.0 L1290.9,1469.1 L1293.9,1466.2 L1296.9,1463.3 L1299.9,1460.6 L1302.9,1457.0 L1305.9,1453.3 L1308.9,1449.9 L1311.9,1446.1 L1314.9,1442.0 L1317.9,1437.8 L1320.9,1433.6 L1323.9,1429.2 L1326.9,1424.5 L1329.9,1420.1 L1332.9,1416.0 L1335.9,1411.0 L1338.9,1406.2 L1341.9,1401.9 L1344.9,1396.8 L1347.9,1391.8 L1350.9,1387.2 L1353.9,1382.4 L1356.9,1377.7 L1359.9,1372.3 L1362.9,1365.7 L1365.9,1359.5 L1368.9,1354.0 L1371.9,1348.2 L1374.9,1342.5 L1377.9,1337.0 L1380.9,1331.3 L1383.9,1326.2 L1386.9,1321.4 L1389.9,1316.5 L1392.9,1311.6 L1395.9,1306.8 L1398.9,1302.7 L1401.9,1298.6 L1404.9,1294.3 L1407.9,1290.5 L1410.9,1287.7 L1413.9,1285.7 L1416.9,1283.8 L1419.9,1282.6 L1422.9,1282.2 L1425.9,1282.1 L1428.9,1282.2 L1431.9,1282.5 L1434.9,1283.9 L1437.9,1286.7 L1440.9,1290.0 L1443.9,1293.8 L1446.9,1298.5 L1449.9,1304.2 L1452.9,1310.5 L1455.9,1317.3 L1458.9,1324.8 L1461.9,1332.9 L1464.9,1341.4 L1467.9,1350.4 L1470.9,1359.1 L1473.9,1367.6 L1476.9,1376.4 L1479.9,1385.8 L1482.9,1396.6 L1485.9,1408.3 L1488.9,1420.7 L1491.9,1433.2 L1494.9,1443.9 L1497.9,1453.6 L1500.9,1463.3 L1503.9,1473.0 L1506.9,1482.2 L1509.9,1490.2 L1512.9,1497.6 L1515.9,1504.7 L1518.9,1511.8 L1521.9,1518.6 L1524.9,1524.4 L1527.9,1529.0 L1530.9,1533.8 L1533.9,1538.1 L1536.9,1541.9 L1539.9,1545.7 L1542.9,1548.6 L1545.9,1551.0 L1548.9,1554.1 L1551.9,1556.5 L1554.9,1557.6 L1557.9,1558.7 L1560.9,1560.1 L1563.9,1560.8 L1566.9,1561.3 L1569.9,1561.5 L1572.9,1561.2 L1575.9,1561.2 L1578.9,1561.2 L1581.9,1561.0 L1584.9,1561.1 L1587.9,1561.3 L1590.9,1561.6 L1593.9,1561.4 L1596.9,1561.1 L1599.9,1561.4 L1602.9,1561.8 L1605.9,1562.2 L1608.9,1563.1 L1611.9,1564.2 L1614.9,1564.9 L1617.9,1565.6 L1620.9,1566.6 L1623.9,1567.9 L1626.9,1568.5 L1629.9,1568.4 L1632.9,1568.9 L1635.9,1569.7 L1638.9,1569.6 L1641.9,1569.5 L1644.9,1569.8 L1647.9,1570.3 L1650.9,1570.6 L1653.9,1570.9 L1656.9,1571.1 L1659.9,1570.8 L1662.9,1570.9 L1665.9,1571.5 L1668.9,1572.6 L1671.9,1573.2 L1674.9,1574.1 L1677.9,1575.6 L1680.9,1576.6 L1683.9,1576.8 L1686.9,1577.4 L1689.9,1578.2 L1692.9,1579.3 L1695.9,1580.2 L1698.9,1580.7 L1701.9,1581.4 L1704.9,1582.2 L1707.9,1583.3 L1710.9,1585.1 L1713.9,1586.2 L1716.9,1586.6 L1719.9,1587.9 L1722.9,1589.5 L1725.9,1590.7 L1728.9,1591.7 L1731.9,1592.8 L1734.9,1594.1 L1737.9,1595.5 L1740.9,1596.3 L1743.9,1596.7 L1746.9,1597.1 L1749.9,1597.0 L1752.9,1597.0 L1755.9,1597.7 L1758.9,1598.2 L1761.9,1598.7 L1764.9,1599.7 L1767.9,1600.2 L1770.9,1600.0 L1773.9,1600.6 L1776.9,1601.7 L1779.9,1601.5 L1782.9,1600.3 L1785.9,1599.4 L1788.9,1599.2 L1791.9,1598.9 L1794.9,1598.7 L1797.9,1598.9 L1800.9,1598.7 L1803.9,1599.0 L1806.9,1599.6 L1809.9,1599.6 L1812.9,1599.9 L1815.9,1600.5 L1818.9,1600.8 L1821.9,1600.8 L1824.9,1601.0 L1827.9,1601.9 L1830.9,1603.2 L1833.9,1603.7 L1836.9,1603.9 L1839.9,1605.3 L1842.9,1607.1 L1845.9,1609.0 L1848.9,1610.9 L1851.9,1612.0 L1854.9,1612.3 L1857.9,1612.5 L1860.9,1612.8 L1863.9,1613.3 L1866.9,1614.1 L1869.9,1614.6 L1872.9,1613.7 L1875.9,1612.7 L1878.9,1613.1 L1881.9,1613.6 L1884.9,1613.7 L1887.9,1614.3 L1890.9,1615.6 L1893.9,1616.8 L1896.9,1617.7 L1899.9,1618.6 L1902.9,1619.6 L1905.9,1620.0 L1908.9,1620.1 L1911.9,1620.4 L1914.9,1621.2 L1917.9,1622.0 L1920.9,1622.3 L1923.9,1623.4 L1926.9,1624.7 L1929.9,1625.6 L1932.9,1626.3 L1935.9,1627.5 L1938.9,1629.3 L1941.9,1630.6 L1944.9,1631.0 L1947.9,1631.5 L1950.9,1633.1 L1953.9,1635.6 L1956.9,1637.3 L1959.9,1638.2 L1962.9,1638.9 L1965.9,1639.1 L1968.9,1639.4 L1971.9,1640.0 L1974.9,1640.3 L1977.9,1640.7 L1980.9,1642.2 L1983.9,1643.5 L1986.9,1643.7 L1989.9,1644.3 L1992.9,1645.0 L1995.9,1644.7 L1998.9,1644.5 L2001.9,1645.3 L2004.9,1645.6 L2007.9,1645.7 L2010.9,1646.2 L2013.9,1645.8 L2016.9,1645.3 L2019.9,1645.5 L2022.9,1645.5 L2025.9,1646.0 L2028.9,1646.5 L2031.9,1646.6 L2034.9,1646.9 L2037.9,1647.5 L2040.9,1647.4 L2043.9,1647.1 L2046.9,1646.9 L2049.9,1647.1 L2052.9,1647.5 L2055.9,1647.9 L2058.9,1648.4 L2061.9,1648.5 L2064.9,1648.8 L2067.9,1649.6 L2070.9,1651.0 L2073.9,1652.9 L2076.9,1654.5 L2079.9,1655.4 L2082.9,1656.7 L2085.9,1658.1 L2088.9,1659.1 L2091.9,1660.4 L2094.9,1661.7 L2097.9,1662.8 L2100.9,1664.4 L2103.9,1665.9 L2106.9,1667.0 L2109.9,1668.1 L2112.9,1670.1 L2115.9,1672.2 L2118.9,1673.5 L2121.9,1675.2 L2124.9,1676.4 L2127.9,1676.8 L2130.9,1677.8 L2133.9,1679.5 L2136.9,1680.5 L2139.9,1680.4 L2142.9,1681.0 L2145.9,1682.0 L2148.9,1682.8 L2151.9,1683.3 L2154.9,1683.1 L2157.9,1683.0 L2160.9,1683.5 L2163.9,1684.1 L2166.9,1683.5 L2169.9,1683.0 L2172.9,1683.7 L2175.9,1684.8 L2178.9,1685.4 L2181.9,1685.3 L2184.9,1685.4 L2187.9,1686.3 L2190.9,1686.8 L2193.9,1687.0 L2196.9,1687.4 L2199.9,1687.8 L2202.9,1688.0 L2205.9,1688.5 L2208.9,1688.9 L2211.9,1689.3 L2214.9,1689.7 L2217.9,1689.8 L2220.9,1690.4 L2223.9,1690.8 L2226.9,1690.3 L2229.9,1690.2 L2232.9,1690.9 L2235.9,1692.2 L2238.9,1693.5 L2241.9,1694.9 L2244.9,1696.2 L2247.9,1697.3 L2250.9,1698.1 L2253.9,1699.1 L2256.9,1700.5 L2259.9,1701.6 L2262.9,1702.4 L2265.9,1703.7 L2268.9,1704.3" stroke="#0050FF"/>
<path d="M144.9,1521.8 L147.9,1522.1 L150.9,1522.5 L153.9,1523.5 L156.9,1524.0 L159.9,1523.2 L162.9,1522.8 L165.9,1522.9 L168.9,1523.1 L171.9,1523.3 L174.9,1522.9 L177.9,1522.2 L180.9,1521.7 L183.9,1520.8 L186.9,1520.2 L189.9,1519.9 L192.9,1518.7 L195.9,1517.1 L198.9,1515.8 L201.9,1515.0 L204.9,1514.3 L207.9,1513.4 L210.9,1512.3 L213.9,1511.9 L216.9,1511.9 L219.9,1511.6 L222.9,1511.4 L225.9,1511.3 L228.9,1510.7 L231.9,1510.1 L234.9,1509.6 L237.9,1508.5 L240.9,1507.2 L243.9,1506.8 L246.9,1506.5 L249.9,1506.0 L252.9,1505.9 L255.9,1506.2 L258.9,1506.9 L261.9,1507.4 L264.9,1507.2 L267.9,1506.9 L270.9,1507.0 L273.9,1506.5 L276.9,1505.5 L279.9,1504.8 L282.9,1504.3 L285.9,1503.9 L288.9,1503.9 L291.9,1503.8 L294.9,1503.3 L297.9,1502.6 L300.9,1502.2 L303.9,1501.8 L306.9,1501.8 L309.9,1501.8 L312.9,1500.7 L315.9,1499.0 L318.9,1497.4 L321.9,1496.2 L324.9,1495.5 L327.9,1494.8 L330.9,1493.5 L333.9,1492.0 L336.9,1490.7 L339.9,1489.7 L342.9,1488.6 L345.9,1486.8 L348.9,1485.2 L351.9,1484.1 L354.9,1483.0 L357.9,1481.4 L360.9,1479.7 L363.9,1478.6 L366.9,1478.1 L369.9,1478.6 L372.9,1478.6 L375.9,1477.7 L378.9,1477.4 L381.9,1477.1 L384.9,1476.4 L387.9,1476.3 L390.9,1476.1 L393.9,1476.0 L396.9,1475.6 L399.9,1474.2 L402.9,1473.3 L405.9,1472.5 L408.9,1471.1 L411.9,1470.0 L414.9,1468.9 L417.9,1467.4 L420.9,1466.1 L423.9,1464.5 L426.9,1463.2 L429.9,1463.3 L432.9,1463.2 L435.9,1462.0 L438.9,1460.5 L441.9,1459.1 L444.9,1458.3 L447.9,1457.6 L450.9,1457.2 L453.9,1456.8 L456.9,1455.9 L459.9,1454.8 L462.9,1453.8 L465.9,1453.5 L468.9,1453.1 L471.9,1452.1 L474.9,1451.7 L477.9,1451.4 L480.9,1449.9 L483.9,1448.6 L486.9,1448.3 L489.9,1448.5 L492.9,1448.1 L495.9,1446.5 L498.9,1444.9 L501.9,1444.3 L504.9,1443.8 L507.9,1443.1 L510.9,1443.0 L513.9,1442.6 L516.9,1441.5 L519.9,1440.8 L522.9,1440.2 L525.9,1439.0 L528.9,1437.4 L531.9,1436.1 L534.9,1434.3 L537.9,1432.4 L540.9,1430.9 L543.9,1428.9 L546.9,1426.3 L549.9,1424.0 L552.9,1422.5 L555.9,1421.6 L558.9,1420.0 L561.9,1417.7 L564.9,1415.3 L567.9,1412.8 L570.9,1410.7 L573.9,1408.8 L576.9,1406.5 L579.9,1404.7 L582.9,1403.3 L585.9,1401.5 L588.9,1399.7 L591.9,1398.3 L594.9,1396.9 L597.9,1395.5 L600.9,1393.6 L603.9,1391.6 L606.9,1389.7 L609.9,1387.3 L612.9,1384.4 L615.9,1382.1 L618.9,1380.2 L621.9,1378.5 L624.9,1376.2 L627.9,1373.7 L630.9,1372.0 L633.9,1370.7 L636.9,1369.3 L639.9,1367.6 L642.9,1366.3 L645.9,1365.2 L648.9,1363.4 L651.9,1361.4 L654.9,1359.9 L657.9,1357.4 L660.9,1354.3 L663.9,1351.3 L666.9,1348.3 L669.9,1345.4 L672.9,1341.9 L675.9,1338.1 L678.9,1334.7 L681.9,1331.4 L684.9,1328.2 L687.9,1324.8 L690.9,1321.0 L693.9,1316.2 L696.9,1311.5 L699.9,1307.8 L702.9,1303.9 L705.9,1300.1 L708.9,1296.2 L711.9,1291.3 L714.9,1286.2 L717.9,1281.4 L720.9,1276.7 L723.9,1271.8 L726.9,1267.1 L729.9,1263.1 L732.9,1259.4 L735.9,1255.3 L738.9,1251.0 L741.9,1246.4 L744.9,1241.6 L747.9,1236.8 L750.9,1232.0 L753.9,1226.9 L756.9,1221.2 L759.9,1215.3 L762.9,1210.1 L765.9,1205.1 L768.9,1199.3 L771.9,1193.7 L774.9,1188.5 L777.9,1182.4 L780.9,1175.5 L783.9,1168.6 L786.9,1161.8 L789.9,1154.0 L792.9,1145.7 L795.9,1137.4 L798.9,1128.9 L801.9,1121.2 L804.9,1114.0 L807.9,1106.6 L810.9,1098.8 L813.9,1091.1 L816.9,1084.2 L819.9,1077.8 L822.9,1071.7 L825.9,1066.5 L828.9,1061.8 L831.9,1056.7 L834.9,1050.9 L837.9,1045.1 L840.9,1039.7 L843.9,1034.9 L846.9,1031.6 L849.9,1028.9 L852.9,1026.3 L855.9,1023.8 L858.9,1021.5 L861.9,1019.7 L864.9,1018.5 L867.9,1017.5 L870.9,1016.3 L873.9,1015.8 L876.9,1016.4 L879.9,1017.7 L882.9,1018.5 L885.9,1018.5 L888.9,1018.9 L891.9,1020.4 L894.9,1022.7 L897.9,1025.1 L900.9,1027.9 L903.9,1030.7 L906.9,1033.6 L909.9,1036.7 L912.9,1039.7 L915.9,1042.6 L918.9,1045.7 L921.9,1049.1 L924.9,1052.5 L927.9,1055.8 L930.9,1059.2 L933.9,1062.7 L936.9,1066.7 L939.9,1071.7 L942.9,1076.8 L945.9,1082.5 L948.9,1088.0 L951.9,1093.2 L954.9,1099.2 L957.9,1105.6 L960.9,1111.9 L963.9,1118.6 L966.9,1125.7 L969.9,1132.4 L972.9,1138.9 L975.9,1145.4 L978.9,1151.9 L981.9,1158.3 L984.9,1165.0 L987.9,1171.8 L990.9,1177.9 L993.9,1183.7 L996.9,1189.8 L999.9,1196.3 L1002.9,1202.3 L1005.9,1207.6 L1008.9,1212.8 L1011.9,1218.6 L1014.9,1223.9 L1017.9,1227.9 L1020.9,1232.1 L1023.9,1236.1 L1026.9,1239.8 L1029.9,1244.3 L1032.9,1248.9 L1035.9,1252.9 L1038.9,1256.0 L1041.9,1258.6 L1044.9,1261.6 L1047.9,1264.3 L1050.9,1266.6 L1053.9,1268.7 L1056.9,1270.6 L1059.9,1272.9 L1062.9,1275.6 L1065.9,1277.8 L1068.9,1279.2 L1071.9,1281.0 L1074.9,1283.6 L1077.9,1286.5 L1080.9,1289.4 L1083.9,1291.8 L1086.9,1293.8 L1089.9,1295.8 L1092.9,1297.8 L1095.9,1299.6 L1098.9,1301.1 L1101.9,1302.1 L1104.9,1303.3 L1107.9,1305.0 L1110.9,1306.9 L1113.9,1309.2 L1116.9,1310.9 L1119.9,1312.1 L1122.9,1314.0 L1125.9,1315.4 L1128.9,1316.2 L1131.9,1317.3 L1134.9,1317.6 L1137.9,1317.3 L1140.9,1317.9 L1143.9,1318.4 L1146.9,1318.6 L1149.9,1318.6 L1152.9,1318.2 L1155.9,1318.0 L1158.9,1318.1 L1161.9,1318.3 L1164.9,1318.4 L1167.9,1318.2 L1170.9,1318.5 L1173.9,1319.3 L1176.9,1319.7 L1179.9,1319.5 L1182.9,1319.2 L1185.9,1319.5 L1188.9,1320.2 L1191.9,1320.6 L1194.9,1321.1 L1197.9,1321.7 L1200.9,1322.0 L1203.9,1322.2 L1206.9,1322.7 L1209.9,1323.0 L1212.9,1323.3 L1215.9,1323.7 L1218.9,1323.8 L1221.9,1323.6 L1224.9,1323.6 L1227.9,1323.9 L1230.9,1324.2 L1233.9,1324.2 L1236.9,1324.1 L1239.9,1324.1 L1242.9,1324.2 L1245.9,1324.3 L1248.9,1323.8 L1251.9,1323.6 L1254.9,1324.6 L1257.9,1324.6 L1260.9,1323.5 L1263.9,1322.2 L1266.9,1320.7 L1269.9,1319.0 L1272.9,1316.1 L1275.9,1312.7 L1278.9,1310.3 L1281.9,1308.0 L1284.9,1305.5 L1287.9,1302.0 L1290.9,1298.9 L1293.9,1297.1 L1296.9,1294.9 L1299.9,1291.9 L1302.9,1288.9 L1305.9,1286.9 L1308.9,1283.9 L1311.9,1280.0 L1314.9,1276.5 L1317.9,1273.3 L1320.9,1269.9 L1323.9,1265.5 L1326.9,1260.9 L1329.9,1256.8 L1332.9,1252.0 L1335.9,1247.0 L1338.9,1242.1 L1341.9,1236.5 L1344.9,1231.2 L1347.9,1226.5 L1350.9,1220.7 L1353.9,1214.7 L1356.9,1209.0 L1359.9,1203.0 L1362.9,1197.3 L1365.9,1192.2 L1368.9,1187.0 L1371.9,1181.9 L1374.9,1176.6 L1377.9,1170.8 L1380.9,1165.3 L1383.9,1159.7 L1386.9,1153.7 L1389.9,1148.3 L1392.9,1143.2 L1395.9,1138.5 L1398.9,1133.5 L1401.9,1128.1 L1404.9,1123.1 L1407.9,1118.7 L1410.9,1114.6 L1413.9,1110.7 L1416.9,1106.9 L1419.9,1103.9 L1422.9,1102.4 L1425.9,1101.0 L1428.9,1100.3 L1431.9,1100.8 L1434.9,1102.0 L1437.9,1104.0 L1440.9,1107.1 L1443.9,1110.8 L1446.9,1115.7 L1449.9,1122.1 L1452.9,1129.2 L1455.9,1136.0 L1458.9,1142.8 L1461.9,1150.5 L1464.9,1158.4 L1467.9,1167.1 L1470.9,1176.5 L1473.9,1186.7 L1476.9,1197.5 L1479.9,1207.8 L1482.9,1219.0 L1485.9,1231.5 L1488.9,1243.5 L1491.9,1254.9 L1494.9,1266.8 L1497.9,1279.8 L1500.9,1292.2 L1503.9,1303.6 L1506.9,1314.8 L1509.9,1325.2 L1512.9,1334.4 L1515.9,1342.7 L1518.9,1350.1 L1521.9,1357.4 L1524.9,1364.9 L1527.9,1371.6 L1530.9,1378.1 L1533.9,1384.7 L1536.9,1389.8 L1539.9,1393.6 L1542.9,1396.6 L1545.9,1398.6 L1548.9,1399.9 L1551.9,1402.0 L1554.9,1403.8 L1557.9,1404.4 L1560.9,1405.4 L1563.9,1406.8 L1566.9,1407.4 L1569.9,1407.9 L1572.9,1409.2 L1575.9,1410.9 L1578.9,1412.3 L1581.9,1413.1 L1584.9,1414.4 L1587.9,1416.4 L1590.9,1418.0 L1593.9,1418.6 L1596.9,1419.4 L1599.9,1420.7 L1602.9,1422.0 L1605.9,1422.8 L1608.9,1423.4 L1611.9,1424.4 L1614.9,1425.3 L1617.9,1426.0 L1620.9,1427.1 L1623.9,1428.1 L1626.9,1428.8 L1629.9,1429.6 L1632.9,1430.2 L1635.9,1431.5 L1638.9,1433.0 L1641.9,1434.3 L1644.9,1435.2 L1647.9,1435.2 L1650.9,1435.6 L1653.9,1436.7 L1656.9,1437.6 L1659.9,1437.8 L1662.9,1437.0 L1665.9,1436.1 L1668.9,1435.9 L1671.9,1435.3 L1674.9,1435.5 L1677.9,1436.6 L1680.9,1436.8 L1683.9,1436.8 L1686.9,1437.3 L1689.9,1437.5 L1692.9,1437.4 L1695.9,1436.8 L1698.9,1435.8 L1701.9,1435.5 L1704.9,1436.4 L1707.9,1436.9 L1710.9,1436.8 L1713.9,1437.3 L1716.9,1438.0 L1719.9,1439.2 L1722.9,1441.0 L1725.9,1442.2 L1728.9,1443.0 L1731.9,1444.1 L1734.9,1445.3 L1737.9,1446.4 L1740.9,1447.0 L1743.9,1447.8 L1746.9,1449.5 L1749.9,1451.0 L1752.9,1451.5 L1755.9,1452.4 L1758.9,1454.0 L1761.9,1455.3 L1764.9,1455.7 L1767.9,1456.2 L1770.9,1457.2 L1773.9,1458.0 L1776.9,1459.0 L1779.9,1460.3 L1782.9,1461.3 L1785.9,1462.7 L1788.9,1463.9 L1791.9,1463.8 L1794.9,1463.2 L1797.9,1462.8 L1800.9,1462.6 L1803.9,1462.7 L1806.9,1462.7 L1809.9,1462.7 L1812.9,1463.0 L1815.9,1463.2 L1818.9,1463.2 L1821.9,1463.4 L1824.9,1464.1 L1827.9,1465.2 L1830.9,1465.9 L1833.9,1466.4 L1836.9,1466.4 L1839.9,1466.2 L1842.9,1466.0 L1845.9,1466.2 L1848.9,1467.3 L1851.9,1467.9 L1854.9,1467.7 L1857.9,1468.5 L1860.9,1469.7 L1863.9,1470.7 L1866.9,1472.1 L1869.9,1473.9 L1872.9,1474.9 L1875.9,1475.8 L1878.9,1476.9 L1881.9,1477.6 L1884.9,1478.6 L1887.9,1479.4 L1890.9,1480.3 L1893.9,1481.4 L1896.9,1482.6 L1899.9,1483.8 L1902.9,1484.8 L1905.9,1485.6 L1908.9,1486.0 L1911.9,1486.5 L1914.9,1486.8 L1917.9,1487.5 L1920.9,1488.9 L1923.9,1489.7 L1926.9,1490.1 L1929.9,1491.0 L1932.9,1491.5 L1935.9,1492.1 L1938.9,1493.0 L1941.9,1493.2 L1944.9,1493.6 L1947.9,1494.8 L1950.9,1495.4 L1953.9,1495.2 L1956.9,1495.1 L1959.9,1495.3 L1962.9,1496.3 L1965.9,1497.7 L1968.9,1498.5 L1971.9,1499.2 L1974.9,1500.9 L1977.9,1502.8 L1980.9,1503.6 L1983.9,1504.6 L1986.9,1506.2 L1989.9,1507.2 L1992.9,1507.7 L1995.9,1508.1 L1998.9,1508.6 L2001.9,1509.7 L2004.9,1511.1 L2007.9,1512.4 L2010.9,1513.7 L2013.9,1514.8 L2016.9,1515.6 L2019.9,1516.2 L2022.9,1516.5 L2025.9,1517.0 L2028.9,1518.4 L2031.9,1519.5 L2034.9,1520.4 L2037.9,1520.9 L2040.9,1520.9 L2043.9,1520.9 L2046.9,1521.3 L2049.9,1521.6 L2052.9,1522.2 L2055.9,1523.3 L2058.9,1524.2 L2061.9,1525.0 L2064.9,1526.5 L2067.9,1527.6 L2070.9,1528.0 L2073.9,1528.9 L2076.9,1529.9 L2079.9,1530.0 L2082.9,1530.1 L2085.9,1530.8 L2088.9,1530.9 L2091.9,1530.8 L2094.9,1531.3 L2097.9,1532.0 L2100.9,1532.6 L2103.9,1533.6 L2106.9,1534.8 L2109.9,1535.4 L2112.9,1536.5 L2115.9,1538.3 L2118.9,1539.7 L2121.9,1540.3 L2124.9,1540.8 L2127.9,1542.0 L2130.9,1543.5 L2133.9,1544.6 L2136.9,1545.5 L2139.9,1546.9 L2142.9,1548.1 L2145.9,1548.6 L2148.9,1549.4 L2151.9,1550.0 L2154.9,1549.6 L2157.9,1549.3 L2160.9,1549.8 L2163.9,1550.0 L2166.9,1549.7 L2169.9,1549.3 L2172.9,1549.9 L2175.9,1550.9 L2178.9,1551.4 L2181.9,1552.4 L2184.9,1554.2 L2187.9,1555.2 L2190.9,1554.7 L2193.9,1554.4 L2196.9,1555.1 L2199.9,1556.2 L2202.9,1557.3 L2205.9,1558.1 L2208.9,1558.3 L2211.9,1558.5 L2214.9,1559.0 L2217.9,1559.4 L2220.9,1560.0 L2223.9,1561.1 L2226.9,1562.6 L2229.9,1563.0 L2232.9,1562.8 L2235.9,1563.3 L2238.9,1563.9 L2241.9,1564.2 L2244.9,1564.6 L2247.9,1565.4 L2250.9,1566.0 L2253.9,1566.0 L2256.9,1566.0 L2259.9,1566.5 L2262.9,1567.7 L2265.9,1569.3 L2268.9,1570.3" stroke="#4AB9FC"/>
<path d="M144.9,1318.4 L147.9,1318.4 L150.9,1318.7 L153.9,1318.8 L156.9,1318.3 L159.9,1317.7 L162.9,1318.2 L165.9,1319.3 L168.9,1319.8 L171.9,1319.6 L174.9,1319.3 L177.9,1318.9 L180.9,1318.6 L183.9,1318.7 L186.9,1319.0 L189.9,1318.8 L192.9,1318.1 L195.9,1317.8 L198.9,1317.5 L201.9,1316.5 L204.9,1315.5 L207.9,1314.8 L210.9,1313.4 L213.9,1311.8 L216.9,1310.6 L219.9,1308.8 L222.9,1306.5 L225.9,1304.3 L228.9,1302.1 L231.9,1300.1 L234.9,1298.9 L237.9,1298.1 L240.9,1296.9 L243.9,1295.9 L246.9,1295.0 L249.9,1294.1 L252.9,1294.1 L255.9,1294.4 L258.9,1294.8 L261.9,1295.0 L264.9,1294.8 L267.9,1294.3 L270.9,1293.8 L273.9,1293.2 L276.9,1292.4 L279.9,1291.5 L282.9,1291.2 L285.9,1291.4 L288.9,1291.8 L291.9,1292.1 L294.9,1292.1 L297.9,1292.4 L300.9,1292.8 L303.9,1292.5 L306.9,1292.9 L309.9,1293.0 L312.9,1291.9 L315.9,1291.9 L318.9,1292.0 L321.9,1291.8 L324.9,1291.5 L327.9,1290.6 L330.9,1290.6 L333.9,1290.6 L336.9,1289.3 L339.9,1287.9 L342.9,1286.7 L345.9,1285.5 L348.9,1284.4 L351.9,1282.8 L354.9,1281.5 L357.9,1280.3 L360.9,1278.6 L363.9,1277.8 L366.9,1277.5 L369.9,1277.3 L372.9,1277.7 L375.9,1277.2 L378.9,1275.8 L381.9,1274.6 L384.9,1273.0 L387.9,1271.4 L390.9,1270.0 L393.9,1268.8 L396.9,1267.8 L399.9,1266.6 L402.9,1265.7 L405.9,1264.9 L408.9,1264.1 L411.9,1263.5 L414.9,1263.4 L417.9,1264.4 L420.9,1265.9 L423.9,1267.0 L426.9,1267.2 L429.9,1266.5 L432.9,1265.3 L435.9,1264.4 L438.9,1263.8 L441.9,1263.4 L444.9,1263.1 L447.9,1262.3 L450.9,1260.8 L453.9,1260.3 L456.9,1260.3 L459.9,1259.5 L462.9,1258.6 L465.9,1258.0 L468.9,1257.0 L471.9,1255.9 L474.9,1254.8 L477.9,1253.8 L480.9,1253.2 L483.9,1251.8 L486.9,1249.9 L489.9,1248.5 L492.9,1247.4 L495.9,1246.4 L498.9,1245.5 L501.9,1244.9 L504.9,1244.6 L507.9,1244.2 L510.9,1243.8 L513.9,1242.9 L516.9,1241.7 L519.9,1240.6 L522.9,1238.8 L525.9,1237.0 L528.9,1235.4 L531.9,1234.2 L534.9,1233.5 L537.9,1232.3 L540.9,1230.8 L543.9,1230.4 L546.9,1230.1 L549.9,1229.5 L552.9,1228.6 L555.9,1227.1 L558.9,1226.1 L561.9,1225.0 L564.9,1222.2 L567.9,1219.2 L570.9,1217.3 L573.9,1215.4 L576.9,1213.2 L579.9,1211.7 L582.9,1211.2 L585.9,1210.9 L588.9,1210.0 L591.9,1208.7 L594.9,1207.7 L597.9,1206.2 L600.9,1204.2 L603.9,1203.0 L606.9,1201.5 L609.9,1199.6 L612.9,1197.7 L615.9,1195.5 L618.9,1192.5 L621.9,1189.5 L624.9,1187.7 L627.9,1186.4 L630.9,1184.3 L633.9,1183.0 L636.9,1183.0 L639.9,1182.7 L642.9,1181.2 L645.9,1179.1 L648.9,1177.1 L651.9,1174.2 L654.9,1171.1 L657.9,1168.6 L660.9,1166.3 L663.9,1163.9 L666.9,1161.0 L669.9,1157.8 L672.9,1154.7 L675.9,1151.4 L678.9,1147.8 L681.9,1143.5 L684.9,1139.8 L687.9,1136.6 L690.9,1132.6 L693.9,1128.7 L696.9,1124.8 L699.9,1120.6 L702.9,1117.1 L705.9,1113.5 L708.9,1109.7 L711.9,1107.5 L714.9,1105.4 L717.9,1102.0 L720.9,1098.8 L723.9,1096.2 L726.9,1093.1 L729.9,1089.1 L732.9,1085.5 L735.9,1082.2 L738.9,1078.6 L741.9,1074.7 L744.9,1070.3 L747.9,1065.3 L750.9,1060.2 L753.9,1054.9 L756.9,1049.7 L759.9,1045.0 L762.9,1040.2 L765.9,1036.1 L768.9,1032.5 L771.9,1028.1 L774.9,1023.6 L777.9,1019.3 L780.9,1013.9 L783.9,1007.8 L786.9,1000.9 L789.9,993.5 L792.9,985.8 L795.9,978.2 L798.9,971.3 L801.9,964.1 L804.9,956.0 L807.9,949.1 L810.9,942.4 L813.9,935.0 L816.9,928.5 L819.9,922.8 L822.9,916.5 L825.9,910.3 L828.9,903.8 L831.9,897.1 L834.9,891.2 L837.9,885.7 L840.9,880.4 L843.9,875.0 L846.9,869.9 L849.9,865.5 L852.9,861.9 L855.9,858.0 L858.9,854.1 L861.9,851.3 L864.9,849.2 L867.9,847.0 L870.9,845.2 L873.9,843.8 L876.9,842.9 L879.9,842.4 L882.9,841.8 L885.9,841.5 L888.9,841.8 L891.9,842.6 L894.9,844.4 L897.9,846.0 L900.9,847.4 L903.9,848.7 L906.9,850.4 L909.9,853.2 L912.9,856.5 L915.9,858.8 L918.9,860.8 L921.9,863.3 L924.9,865.5 L927.9,867.0 L930.9,868.6 L933.9,871.3 L936.9,874.7 L939.9,878.2 L942.9,881.8 L945.9,886.1 L948.9,891.4 L951.9,896.7 L954.9,902.0 L957.9,907.6 L960.9,913.3 L963.9,918.6 L966.9,924.0 L969.9,930.5 L972.9,937.5 L975.9,943.7 L978.9,949.2 L981.9,954.9 L984.9,960.9 L987.9,967.1 L990.9,973.1 L993.9,979.9 L996.9,987.3 L999.9,993.6 L1002.9,999.3 L1005.9,1005.2 L1008.9,1011.4 L1011.9,1017.8 L1014.9,1023.3 L1017.9,1028.2 L1020.9,1033.1 L1023.9,1037.9 L1026.9,1042.9 L1029.9,1048.4 L1032.9,1053.6 L1035.9,1058.2 L1038.9,1062.0 L1041.9,1066.2 L1044.9,1070.8 L1047.9,1074.3 L1050.9,1077.4 L1053.9,1080.8 L1056.9,1084.4 L1059.9,1087.3 L1062.9,1090.1 L1065.9,1093.0 L1068.9,1095.8 L1071.9,1098.2 L1074.9,1100.6 L1077.9,1103.4 L1080.9,1106.5 L1083.9,1109.4 L1086.9,1111.9 L1089.9,1114.4 L1092.9,1116.6 L1095.9,1118.7 L1098.9,1121.5 L1101.9,1124.6 L1104.9,1127.2 L1107.9,1129.2 L1110.9,1130.7 L1113.9,1132.4 L1116.9,1134.1 L1119.9,1135.1 L1122.9,1135.7 L1125.9,1136.9 L1128.9,1138.1 L1131.9,1139.2 L1134.9,1140.8 L1137.9,1141.9 L1140.9,1142.5 L1143.9,1143.0 L1146.9,1142.4 L1149.9,1141.5 L1152.9,1140.9 L1155.9,1140.7 L1158.9,1141.2 L1161.9,1142.1 L1164.9,1143.2 L1167.9,1143.8 L1170.9,1144.0 L1173.9,1143.7 L1176.9,1143.5 L1179.9,1143.6 L1182.9,1143.9 L1185.9,1144.1 L1188.9,1144.4 L1191.9,1144.6 L1194.9,1144.5 L1197.9,1144.2 L1200.9,1144.1 L1203.9,1144.4 L1206.9,1145.1 L1209.9,1145.6 L1212.9,1146.0 L1215.9,1147.4 L1218.9,1148.8 L1221.9,1149.0 L1224.9,1149.3 L1227.9,1150.1 L1230.9,1151.4 L1233.9,1153.3 L1236.9,1154.3 L1239.9,1154.9 L1242.9,1155.8 L1245.9,1155.6 L1248.9,1154.4 L1251.9,1154.0 L1254.9,1153.6 L1257.9,1152.8 L1260.9,1151.8 L1263.9,1150.6 L1266.9,1149.3 L1269.9,1147.2 L1272.9,1145.0 L1275.9,1143.1 L1278.9,1141.0 L1281.9,1138.8 L1284.9,1136.9 L1287.9,1135.1 L1290.9,1132.5 L1293.9,1129.6 L1296.9,1126.7 L1299.9,1123.8 L1302.9,1120.8 L1305.9,1117.9 L1308.9,1114.4 L1311.9,1110.5 L1314.9,1107.7 L1317.9,1105.1 L1320.9,1101.7 L1323.9,1098.5 L1326.9,1095.5 L1329.9,1091.7 L1332.9,1087.4 L1335.9,1083.4 L1338.9,1079.6 L1341.9,1075.4 L1344.9,1070.3 L1347.9,1064.3 L1350.9,1058.0 L1353.9,1051.9 L1356.9,1045.8 L1359.9,1039.2 L1362.9,1032.2 L1365.9,1025.6 L1368.9,1018.7 L1371.9,1011.0 L1374.9,1003.0 L1377.9,994.5 L1380.9,986.3 L1383.9,979.1 L1386.9,972.1 L1389.9,964.4 L1392.9,956.2 L1395.9,948.2 L1398.9,940.0 L1401.9,931.7 L1404.9,923.3 L1407.9,915.6 L1410.9,909.1 L1413.9,903.1 L1416.9,897.9 L1419.9,894.4 L1422.9,892.3 L1425.9,890.6 L1428.9,889.1 L1431.9,888.6 L1434.9,888.9 L1437.9,889.5 L1440.9,891.3 L1443.9,894.9 L1446.9,898.9 L1449.9,903.0 L1452.9,908.6 L1455.9,916.8 L1458.9,926.4 L1461.9,936.9 L1464.9,948.1 L1467.9,959.8 L1470.9,972.6 L1473.9,985.8 L1476.9,999.3 L1479.9,1013.0 L1482.9,1026.8 L1485.9,1040.7 L1488.9,1055.0 L1491.9,1070.1 L1494.9,1085.1 L1497.9,1099.9 L1500.9,1114.7 L1503.9,1128.5 L1506.9,1140.5 L1509.9,1152.0 L1512.9,1163.2 L1515.9,1174.0 L1518.9,1183.9 L1521.9,1192.3 L1524.9,1199.4 L1527.9,1205.4 L1530.9,1210.9 L1533.9,1216.5 L1536.9,1221.8 L1539.9,1226.8 L1542.9,1230.7 L1545.9,1233.8 L1548.9,1237.1 L1551.9,1240.1 L1554.9,1241.7 L1557.9,1243.0 L1560.9,1244.4 L1563.9,1245.3 L1566.9,1246.2 L1569.9,1247.4 L1572.9,1247.8 L1575.9,1247.5 L1578.9,1248.0 L1581.9,1248.9 L1584.9,1249.6 L1587.9,1250.4 L1590.9,1251.8 L1593.9,1253.3 L1596.9,1254.5 L1599.9,1255.7 L1602.9,1257.2 L1605.9,1258.4 L1608.9,1259.8 L1611.9,1261.2 L1614.9,1262.2 L1617.9,1263.1 L1620.9,1264.0 L1623.9,1264.6 L1626.9,1265.4 L1629.9,1266.4 L1632.9,1267.3 L1635.9,1267.6 L1638.9,1267.8 L1641.9,1268.6 L1644.9,1268.7 L1647.9,1268.7 L1650.9,1269.5 L1653.9,1269.7 L1656.9,1269.8 L1659.9,1270.3 L1662.9,1270.4 L1665.9,1270.8 L1668.9,1271.6 L1671.9,1271.4 L1674.9,1271.8 L1677.9,1272.6 L1680.9,1272.8 L1683.9,1273.6 L1686.9,1275.2 L1689.9,1276.3 L1692.9,1276.4 L1695.9,1277.0 L1698.9,1278.2 L1701.9,1278.6 L1704.9,1279.1 L1707.9,1280.2 L1710.9,1281.3 L1713.9,1282.4 L1716.9,1283.8 L1719.9,1285.1 L1722.9,1286.4 L1725.9,1287.7 L1728.9,1289.2 L1731.9,1291.2 L1734.9,1293.1 L1737.9,1294.4 L1740.9,1295.5 L1743.9,1296.9 L1746.9,1298.8 L1749.9,1299.9 L1752.9,1299.8 L1755.9,1299.9 L1758.9,1300.2 L1761.9,1300.3 L1764.9,1299.7 L1767.9,1298.8 L1770.9,1298.1 L1773.9,1297.5 L1776.9,1297.2 L1779.9,1297.3 L1782.9,1297.6 L1785.9,1298.3 L1788.9,1299.3 L1791.9,1300.2 L1794.9,1300.9 L1797.9,1301.4 L1800.9,1301.6 L1803.9,1302.1 L1806.9,1302.4 L1809.9,1302.7 L1812.9,1303.0 L1815.9,1302.8 L1818.9,1302.3 L1821.9,1302.2 L1824.9,1302.5 L1827.9,1302.8 L1830.9,1302.8 L1833.9,1303.3 L1836.9,1304.9 L1839.9,1306.6 L1842.9,1307.3 L1845.9,1308.0 L1848.9,1308.5 L1851.9,1309.0 L1854.9,1310.5 L1857.9,1312.2 L1860.9,1313.8 L1863.9,1315.4 L1866.9,1316.7 L1869.9,1317.7 L1872.9,1318.7 L1875.9,1320.0 L1878.9,1321.0 L1881.9,1321.2 L1884.9,1321.0 L1887.9,1320.7 L1890.9,1320.9 L1893.9,1321.1 L1896.9,1320.3 L1899.9,1319.8 L1902.9,1319.8 L1905.9,1320.2 L1908.9,1320.3 L1911.9,1320.2 L1914.9,1321.7 L1917.9,1323.6 L1920.9,1324.8 L1923.9,1326.4 L1926.9,1328.4 L1929.9,1329.6 L1932.9,1329.7 L1935.9,1330.2 L1938.9,1331.9 L1941.9,1332.9 L1944.9,1332.4 L1947.9,1332.5 L1950.9,1333.7 L1953.9,1334.6 L1956.9,1335.2 L1959.9,1335.9 L1962.9,1336.6 L1965.9,1338.2 L1968.9,1340.2 L1971.9,1340.8 L1974.9,1340.3 L1977.9,1341.1 L1980.9,1342.4 L1983.9,1342.2 L1986.9,1342.1 L1989.9,1342.9 L1992.9,1343.9 L1995.9,1344.7 L1998.9,1345.7 L2001.9,1346.9 L2004.9,1348.2 L2007.9,1349.3 L2010.9,1350.0 L2013.9,1350.9 L2016.9,1352.1 L2019.9,1353.2 L2022.9,1353.8 L2025.9,1354.3 L2028.9,1355.2 L2031.9,1356.3 L2034.9,1357.3 L2037.9,1358.4 L2040.9,1359.6 L2043.9,1360.4 L2046.9,1360.6 L2049.9,1361.3 L2052.9,1362.6 L2055.9,1363.5 L2058.9,1363.8 L2061.9,1363.9 L2064.9,1364.8 L2067.9,1366.5 L2070.9,1367.8 L2073.9,1367.9 L2076.9,1367.7 L2079.9,1367.9 L2082.9,1368.0 L2085.9,1368.0 L2088.9,1368.0 L2091.9,1367.7 L2094.9,1367.7 L2097.9,1368.3 L2100.9,1369.5 L2103.9,1371.0 L2106.9,1372.6 L2109.9,1373.5 L2112.9,1373.9 L2115.9,1373.8 L2118.9,1373.5 L2121.9,1373.6 L2124.9,1373.8 L2127.9,1374.3 L2130.9,1374.9 L2133.9,1375.9 L2136.9,1377.7 L2139.9,1379.6 L2142.9,1381.2 L2145.9,1382.9 L2148.9,1384.0 L2151.9,1384.3 L2154.9,1384.6 L2157.9,1385.5 L2160.9,1387.3 L2163.9,1388.8 L2166.9,1390.2 L2169.9,1392.4 L2172.9,1394.1 L2175.9,1394.8 L2178.9,1395.5 L2181.9,1396.5 L2184.9,1397.4 L2187.9,1397.8 L2190.9,1399.1 L2193.9,1400.5 L2196.9,1401.0 L2199.9,1401.4 L2202.9,1401.7 L2205.9,1402.1 L2208.9,1403.1 L2211.9,1404.0 L2214.9,1404.5 L2217.9,1405.7 L2220.9,1407.1 L2223.9,1407.6 L2226.9,1407.5 L2229.9,1408.1 L2232.9,1409.6 L2235.9,1411.3 L2238.9,1412.3 L2241.9,1412.2 L2244.9,1411.6 L2247.9,1411.5 L2250.9,1411.9 L2253.9,1412.0 L2256.9,1412.0 L2259.9,1412.6 L2262.9,1413.4 L2265.9,1413.5 L2268.9,1413.6" stroke="#279300"/>
<path d="M144.9,1125.9 L147.9,1125.4 L150.9,1124.4 L153.9,1122.7 L156.9,1120.9 L159.9,1119.5 L162.9,1118.7 L165.9,1118.1 L168.9,1117.7 L171.9,1117.8 L174.9,1118.4 L177.9,1118.8 L180.9,1118.3 L183.9,1117.6 L186.9,1117.4 L189.9,1117.5 L192.9,1117.5 L195.9,1117.7 L198.9,1117.7 L201.9,1117.5 L204.9,1117.5 L207.9,1118.1 L210.9,1118.6 L213.9,1118.0 L216.9,1117.0 L219.9,1115.7 L222.9,1114.1 L225.9,1112.5 L228.9,1111.1 L231.9,1109.6 L234.9,1107.9 L237.9,1106.2 L240.9,1104.3 L243.9,1102.5 L246.9,1101.0 L249.9,1100.0 L252.9,1098.8 L255.9,1097.3 L258.9,1097.0 L261.9,1097.1 L264.9,1096.0 L267.9,1095.3 L270.9,1096.3 L273.9,1097.4 L276.9,1097.9 L279.9,1098.3 L282.9,1098.2 L285.9,1098.3 L288.9,1098.4 L291.9,1097.0 L294.9,1095.3 L297.9,1094.4 L300.9,1093.9 L303.9,1093.4 L306.9,1092.7 L309.9,1091.4 L312.9,1090.3 L315.9,1089.9 L318.9,1089.4 L321.9,1088.5 L324.9,1088.0 L327.9,1088.0 L330.9,1088.4 L333.9,1088.7 L336.9,1088.9 L339.9,1089.6 L342.9,1089.9 L345.9,1089.6 L348.9,1089.2 L351.9,1089.0 L354.9,1088.1 L357.9,1086.5 L360.9,1085.2 L363.9,1084.3 L366.9,1083.7 L369.9,1083.3 L372.9,1082.4 L375.9,1081.5 L378.9,1081.2 L381.9,1081.3 L384.9,1080.9 L387.9,1079.7 L390.9,1078.1 L393.9,1077.5 L396.9,1077.4 L399.9,1076.5 L402.9,1075.6 L405.9,1074.9 L408.9,1074.4 L411.9,1074.8 L414.9,1075.3 L417.9,1075.6 L420.9,1075.9 L423.9,1076.0 L426.9,1075.8 L429.9,1075.6 L432.9,1075.0 L435.9,1073.8 L438.9,1072.6 L441.9,1071.0 L444.9,1069.5 L447.9,1069.2 L450.9,1068.6 L453.9,1067.6 L456.9,1066.5 L459.9,1065.2 L462.9,1064.6 L465.9,1064.4 L468.9,1063.5 L471.9,1061.8 L474.9,1061.2 L477.9,1061.5 L480.9,1061.9 L483.9,1062.3 L486.9,1061.4 L489.9,1059.7 L492.9,1058.5 L495.9,1056.2 L498.9,1053.1 L501.9,1050.5 L504.9,1047.6 L507.9,1044.3 L510.9,1040.4 L513.9,1036.7 L516.9,1034.0 L519.9,1031.3 L522.9,1028.3 L525.9,1024.6 L528.9,1020.6 L531.9,1017.1 L534.9,1014.5 L537.9,1012.5 L540.9,1011.0 L543.9,1009.7 L546.9,1009.3 L549.9,1010.3 L552.9,1011.8 L555.9,1012.3 L558.9,1010.8 L561.9,1008.5 L564.9,1006.4 L567.9,1004.2 L570.9,1002.2 L573.9,1001.2 L576.9,1001.0 L579.9,1000.0 L582.9,998.4 L585.9,997.8 L588.9,997.4 L591.9,996.5 L594.9,995.1 L597.9,993.7 L600.9,992.8 L603.9,992.4 L606.9,991.5 L609.9,989.9 L612.9,988.7 L615.9,987.8 L618.9,986.3 L621.9,984.7 L624.9,983.0 L627.9,981.1 L630.9,979.1 L633.9,976.5 L636.9,973.5 L639.9,970.1 L642.9,967.1 L645.9,964.7 L648.9,962.1 L651.9,959.3 L654.9,956.4 L657.9,953.3 L660.9,950.9 L663.9,949.2 L666.9,947.3 L669.9,945.3 L672.9,943.8 L675.9,942.4 L678.9,940.5 L681.9,938.4 L684.9,936.2 L687.9,933.9 L690.9,931.2 L693.9,928.1 L696.9,924.5 L699.9,921.5 L702.9,918.6 L705.9,914.9 L708.9,911.3 L711.9,907.3 L714.9,903.5 L717.9,900.6 L720.9,897.2 L723.9,893.4 L726.9,889.9 L729.9,886.0 L732.9,882.2 L735.9,878.6 L738.9,875.3 L741.9,871.6 L744.9,867.0 L747.9,862.8 L750.9,858.2 L753.9,852.3 L756.9,847.4 L759.9,843.1 L762.9,838.0 L765.9,832.8 L768.9,827.1 L771.9,820.2 L774.9,812.7 L777.9,805.5 L780.9,798.9 L783.9,792.0 L786.9,784.8 L789.9,777.2 L792.9,769.6 L795.9,762.7 L798.9,755.2 L801.9,746.8 L804.9,738.3 L807.9,730.5 L810.9,723.1 L813.9,715.6 L816.9,708.3 L819.9,701.6 L822.9,694.8 L825.9,687.6 L828.9,680.7 L831.9,674.2 L834.9,667.0 L837.9,659.7 L840.9,654.1 L843.9,649.3 L846.9,644.3 L849.9,639.0 L852.9,633.8 L855.9,629.2 L858.9,624.7 L861.9,619.7 L864.9,614.6 L867.9,610.5 L870.9,607.5 L873.9,604.9 L876.9,603.4 L879.9,603.0 L882.9,602.6 L885.9,602.4 L888.9,602.7 L891.9,603.3 L894.9,603.6 L897.9,603.8 L900.9,604.4 L903.9,605.9 L906.9,608.2 L909.9,610.6 L912.9,613.2 L915.9,615.7 L918.9,618.7 L921.9,622.6 L924.9,625.1 L927.9,626.3 L930.9,627.2 L933.9,628.2 L936.9,629.3 L939.9,631.4 L942.9,635.2 L945.9,639.0 L948.9,643.1 L951.9,647.5 L954.9,650.9 L957.9,653.7 L960.9,657.2 L963.9,662.4 L966.9,667.9 L969.9,673.1 L972.9,678.5 L975.9,684.4 L978.9,690.5 L981.9,697.1 L984.9,703.5 L987.9,709.2 L990.9,714.8 L993.9,721.1 L996.9,727.6 L999.9,734.2 L1002.9,741.7 L1005.9,749.5 L1008.9,756.6 L1011.9,763.3 L1014.9,770.0 L1017.9,776.3 L1020.9,782.7 L1023.9,789.7 L1026.9,797.1 L1029.9,803.8 L1032.9,809.7 L1035.9,815.1 L1038.9,820.3 L1041.9,825.2 L1044.9,830.2 L1047.9,834.8 L1050.9,839.2 L1053.9,843.8 L1056.9,848.3 L1059.9,853.0 L1062.9,858.2 L1065.9,863.1 L1068.9,868.1 L1071.9,873.0 L1074.9,876.8 L1077.9,880.1 L1080.9,883.1 L1083.9,884.8 L1086.9,885.9 L1089.9,887.6 L1092.9,889.6 L1095.9,892.2 L1098.9,895.3 L1101.9,898.2 L1104.9,901.1 L1107.9,904.0 L1110.9,906.0 L1113.9,907.3 L1116.9,908.8 L1119.9,910.7 L1122.9,912.4 L1125.9,913.8 L1128.9,914.9 L1131.9,915.4 L1134.9,915.8 L1137.9,916.2 L1140.9,916.2 L1143.9,916.4 L1146.9,917.0 L1149.9,916.9 L1152.9,917.3 L1155.9,919.0 L1158.9,920.6 L1161.9,921.4 L1164.9,921.8 L1167.9,921.7 L1170.9,921.5 L1173.9,921.6 L1176.9,922.3 L1179.9,922.7 L1182.9,922.8 L1185.9,923.6 L1188.9,924.5 L1191.9,926.0 L1194.9,927.7 L1197.9,928.2 L1200.9,927.3 L1203.9,926.1 L1206.9,925.3 L1209.9,925.3 L1212.9,925.6 L1215.9,925.2 L1218.9,924.6 L1221.9,924.2 L1224.9,924.1 L1227.9,924.5 L1230.9,925.4 L1233.9,926.3 L1236.9,927.2 L1239.9,928.2 L1242.9,929.7 L1245.9,930.9 L1248.9,930.8 L1251.9,930.6 L1254.9,931.1 L1257.9,931.3 L1260.9,932.0 L1263.9,933.1 L1266.9,933.6 L1269.9,933.9 L1272.9,933.8 L1275.9,933.5 L1278.9,932.2 L1281.9,930.0 L1284.9,928.3 L1287.9,927.1 L1290.9,926.4 L1293.9,925.3 L1296.9,923.6 L1299.9,922.0 L1302.9,919.5 L1305.9,916.4 L1308.9,913.9 L1311.9,911.6 L1314.9,908.2 L1317.9,904.4 L1320.9,901.0 L1323.9,897.3 L1326.9,893.0 L1329.9,889.5 L1332.9,885.7 L1335.9,880.2 L1338.9,874.5 L1341.9,868.9 L1344.9,862.8 L1347.9,857.1 L1350.9,851.5 L1353.9,845.2 L1356.9,838.6 L1359.9,831.9 L1362.9,825.1 L1365.9,818.3 L1368.9,811.3 L1371.9,803.5 L1374.9,794.8 L1377.9,786.3 L1380.9,779.0 L1383.9,770.9 L1386.9,761.5 L1389.9,752.1 L1392.9,743.8 L1395.9,735.3 L1398.9,725.9 L1401.9,716.9 L1404.9,708.9 L1407.9,701.0 L1410.9,692.8 L1413.9,685.0 L1416.9,678.4 L1419.9,673.0 L1422.9,667.6 L1425.9,662.0 L1428.9,657.4 L1431.9,654.6 L1434.9,652.7 L1437.9,651.4 L1440.9,651.3 L1443.9,652.4 L1446.9,654.7 L1449.9,658.3 L1452.9,662.5 L1455.9,667.8 L1458.9,675.7 L1461.9,685.6 L1464.9,696.1 L1467.9,708.3 L1470.9,721.6 L1473.9,734.4 L1476.9,747.7 L1479.9,763.0 L1482.9,780.0 L1485.9,797.2 L1488.9,813.5 L1491.9,829.2 L1494.9,844.6 L1497.9,859.6 L1500.9,874.9 L1503.9,890.5 L1506.9,906.1 L1509.9,921.3 L1512.9,935.0 L1515.9,947.8 L1518.9,960.5 L1521.9,972.3 L1524.9,983.5 L1527.9,994.5 L1530.9,1004.7 L1533.9,1014.5 L1536.9,1023.3 L1539.9,1030.8 L1542.9,1036.8 L1545.9,1041.3 L1548.9,1044.4 L1551.9,1046.8 L1554.9,1048.9 L1557.9,1050.4 L1560.9,1051.6 L1563.9,1052.8 L1566.9,1053.4 L1569.9,1053.6 L1572.9,1054.5 L1575.9,1056.2 L1578.9,1057.8 L1581.9,1058.8 L1584.9,1059.4 L1587.9,1059.1 L1590.9,1058.1 L1593.9,1057.1 L1596.9,1057.2 L1599.9,1058.6 L1602.9,1060.7 L1605.9,1062.9 L1608.9,1064.4 L1611.9,1065.4 L1614.9,1066.5 L1617.9,1067.6 L1620.9,1068.4 L1623.9,1069.1 L1626.9,1069.6 L1629.9,1069.8 L1632.9,1070.3 L1635.9,1071.3 L1638.9,1071.9 L1641.9,1072.0 L1644.9,1072.6 L1647.9,1073.2 L1650.9,1072.8 L1653.9,1072.6 L1656.9,1072.6 L1659.9,1072.1 L1662.9,1072.2 L1665.9,1072.3 L1668.9,1071.6 L1671.9,1070.8 L1674.9,1070.4 L1677.9,1070.3 L1680.9,1070.4 L1683.9,1070.2 L1686.9,1070.3 L1689.9,1071.1 L1692.9,1072.5 L1695.9,1074.6 L1698.9,1076.9 L1701.9,1079.5 L1704.9,1083.0 L1707.9,1086.1 L1710.9,1087.4 L1713.9,1088.2 L1716.9,1089.5 L1719.9,1091.3 L1722.9,1093.1 L1725.9,1095.0 L1728.9,1096.9 L1731.9,1098.8 L1734.9,1099.6 L1737.9,1099.2 L1740.9,1099.3 L1743.9,1099.1 L1746.9,1098.8 L1749.9,1099.3 L1752.9,1100.7 L1755.9,1102.1 L1758.9,1103.4 L1761.9,1105.5 L1764.9,1107.2 L1767.9,1107.7 L1770.9,1107.9 L1773.9,1108.0 L1776.9,1108.3 L1779.9,1109.1 L1782.9,1109.8 L1785.9,1110.5 L1788.9,1111.2 L1791.9,1111.0 L1794.9,1111.1 L1797.9,1111.4 L1800.9,1111.3 L1803.9,1112.2 L1806.9,1114.0 L1809.9,1115.9 L1812.9,1117.5 L1815.9,1118.9 L1818.9,1120.2 L1821.9,1121.0 L1824.9,1121.3 L1827.9,1122.2 L1830.9,1124.2 L1833.9,1126.1 L1836.9,1127.5 L1839.9,1129.0 L1842.9,1129.9 L1845.9,1130.2 L1848.9,1130.8 L1851.9,1130.8 L1854.9,1130.7 L1857.9,1131.4 L1860.9,1132.3 L1863.9,1132.8 L1866.9,1133.0 L1869.9,1133.3 L1872.9,1133.6 L1875.9,1133.5 L1878.9,1132.9 L1881.9,1133.0 L1884.9,1133.9 L1887.9,1134.7 L1890.9,1135.5 L1893.9,1136.3 L1896.9,1137.1 L1899.9,1137.6 L1902.9,1137.5 L1905.9,1136.9 L1908.9,1136.2 L1911.9,1136.3 L1914.9,1136.5 L1917.9,1136.7 L1920.9,1137.6 L1923.9,1138.8 L1926.9,1139.7 L1929.9,1140.1 L1932.9,1141.4 L1935.9,1143.5 L1938.9,1145.7 L1941.9,1147.5 L1944.9,1149.1 L1947.9,1150.8 L1950.9,1152.6 L1953.9,1154.1 L1956.9,1155.0 L1959.9,1155.9 L1962.9,1157.2 L1965.9,1159.0 L1968.9,1160.6 L1971.9,1161.6 L1974.9,1162.1 L1977.9,1161.7 L1980.9,1161.5 L1983.9,1162.1 L1986.9,1162.9 L1989.9,1163.4 L1992.9,1163.8 L1995.9,1164.4 L1998.9,1165.3 L2001.9,1165.8 L2004.9,1166.4 L2007.9,1168.0 L2010.9,1169.4 L2013.9,1169.4 L2016.9,1170.0 L2019.9,1170.7 L2022.9,1169.9 L2025.9,1169.0 L2028.9,1169.5 L2031.9,1170.9 L2034.9,1171.9 L2037.9,1172.3 L2040.9,1172.9 L2043.9,1173.4 L2046.9,1173.7 L2049.9,1173.8 L2052.9,1173.0 L2055.9,1172.9 L2058.9,1174.2 L2061.9,1175.7 L2064.9,1176.4 L2067.9,1177.5 L2070.9,1178.6 L2073.9,1179.1 L2076.9,1179.9 L2079.9,1180.9 L2082.9,1182.0 L2085.9,1183.6 L2088.9,1184.8 L2091.9,1185.4 L2094.9,1186.1 L2097.9,1187.4 L2100.9,1189.2 L2103.9,1190.7 L2106.9,1192.0 L2109.9,1193.2 L2112.9,1195.0 L2115.9,1197.0 L2118.9,1198.6 L2121.9,1200.4 L2124.9,1202.3 L2127.9,1203.7 L2130.9,1205.7 L2133.9,1208.4 L2136.9,1210.8 L2139.9,1212.3 L2142.9,1213.2 L2145.9,1214.5 L2148.9,1216.4 L2151.9,1219.1 L2154.9,1222.0 L2157.9,1224.3 L2160.9,1226.3 L2163.9,1228.4 L2166.9,1230.2 L2169.9,1231.3 L2172.9,1232.2 L2175.9,1232.5 L2178.9,1232.7 L2181.9,1234.4 L2184.9,1236.4 L2187.9,1237.6 L2190.9,1238.9 L2193.9,1240.4 L2196.9,1242.3 L2199.9,1244.2 L2202.9,1245.1 L2205.9,1245.1 L2208.9,1245.3 L2211.9,1246.2 L2214.9,1246.9 L2217.9,1248.2 L2220.9,1250.4 L2223.9,1251.7 L2226.9,1252.3 L2229.9,1253.6 L2232.9,1254.3 L2235.9,1254.4 L2238.9,1254.5 L2241.9,1253.7 L2244.9,1252.8 L2247.9,1252.3 L2250.9,1252.9 L2253.9,1254.1 L2256.9,1254.6 L2259.9,1255.2 L2262.9,1256.4 L2265.9,1257.5 L2268.9,1258.1" stroke="#E47A00"/>
<path d="M144.9,824.5 L147.9,823.3 L150.9,822.1 L153.9,821.5 L156.9,820.6 L159.9,819.6 L162.9,819.1 L165.9,818.6 L168.9,817.2 L171.9,816.6 L174.9,816.4 L177.9,815.5 L180.9,815.0 L183.9,815.2 L186.9,816.1 L189.9,816.6 L192.9,816.8 L195.9,817.5 L198.9,818.4 L201.9,818.5 L204.9,818.2 L207.9,818.7 L210.9,819.3 L213.9,819.5 L216.9,819.0 L219.9,818.2 L222.9,817.2 L225.9,816.4 L228.9,816.3 L231.9,816.6 L234.9,816.9 L237.9,817.3 L240.9,817.9 L243.9,818.6 L246.9,819.5 L249.9,820.4 L252.9,820.7 L255.9,820.5 L258.9,819.9 L261.9,819.2 L264.9,818.3 L267.9,817.5 L270.9,816.9 L273.9,815.9 L276.9,814.3 L279.9,812.9 L282.9,812.0 L285.9,811.2 L288.9,810.6 L291.9,810.1 L294.9,809.3 L297.9,808.7 L300.9,808.2 L303.9,807.6 L306.9,807.3 L309.9,807.0 L312.9,806.1 L315.9,804.6 L318.9,803.4 L321.9,802.7 L324.9,801.9 L327.9,800.4 L330.9,798.0 L333.9,796.0 L336.9,795.0 L339.9,794.7 L342.9,795.6 L345.9,797.1 L348.9,797.6 L351.9,797.2 L354.9,796.6 L357.9,796.2 L360.9,796.3 L363.9,796.3 L366.9,796.1 L369.9,796.3 L372.9,797.0 L375.9,797.6 L378.9,798.0 L381.9,797.6 L384.9,796.1 L387.9,794.1 L390.9,792.8 L393.9,791.7 L396.9,791.0 L399.9,790.4 L402.9,789.3 L405.9,787.9 L408.9,786.7 L411.9,785.2 L414.9,783.7 L417.9,782.9 L420.9,783.2 L423.9,783.5 L426.9,783.4 L429.9,784.0 L432.9,784.4 L435.9,783.9 L438.9,783.5 L441.9,783.2 L444.9,782.8 L447.9,782.2 L450.9,781.2 L453.9,780.2 L456.9,778.8 L459.9,776.8 L462.9,774.7 L465.9,773.0 L468.9,771.9 L471.9,771.7 L474.9,772.7 L477.9,773.8 L480.9,775.0 L483.9,776.1 L486.9,775.6 L489.9,774.8 L492.9,773.7 L495.9,771.8 L498.9,770.0 L501.9,768.4 L504.9,767.0 L507.9,765.8 L510.9,764.5 L513.9,763.1 L516.9,761.5 L519.9,759.8 L522.9,757.8 L525.9,756.1 L528.9,754.8 L531.9,753.1 L534.9,752.0 L537.9,751.6 L540.9,750.6 L543.9,749.4 L546.9,748.6 L549.9,747.6 L552.9,746.3 L555.9,745.7 L558.9,745.5 L561.9,745.4 L564.9,745.5 L567.9,745.7 L570.9,745.0 L573.9,743.7 L576.9,742.4 L579.9,740.9 L582.9,739.7 L585.9,738.4 L588.9,736.2 L591.9,733.7 L594.9,732.1 L597.9,730.8 L600.9,729.2 L603.9,727.5 L606.9,725.6 L609.9,724.2 L612.9,722.7 L615.9,721.0 L618.9,718.8 L621.9,715.8 L624.9,712.3 L627.9,709.1 L630.9,706.0 L633.9,703.9 L636.9,702.7 L639.9,700.8 L642.9,698.3 L645.9,696.4 L648.9,694.7 L651.9,692.5 L654.9,689.5 L657.9,685.6 L660.9,681.9 L663.9,679.3 L666.9,677.2 L669.9,674.8 L672.9,672.1 L675.9,669.8 L678.9,667.8 L681.9,665.2 L684.9,661.5 L687.9,658.6 L690.9,656.2 L693.9,653.2 L696.9,650.6 L699.9,647.6 L702.9,643.6 L705.9,640.2 L708.9,637.0 L711.9,633.8 L714.9,630.7 L717.9,627.3 L720.9,623.2 L723.9,618.9 L726.9,614.9 L729.9,610.3 L732.9,606.1 L735.9,602.1 L738.9,596.9 L741.9,591.9 L744.9,587.2 L747.9,581.8 L750.9,576.7 L753.9,572.2 L756.9,566.8 L759.9,561.2 L762.9,555.6 L765.9,549.6 L768.9,543.8 L771.9,538.6 L774.9,533.0 L777.9,526.1 L780.9,518.1 L783.9,509.7 L786.9,501.4 L789.9,493.0 L792.9,484.8 L795.9,476.6 L798.9,468.4 L801.9,460.5 L804.9,452.4 L807.9,444.5 L810.9,436.7 L813.9,428.1 L816.9,419.5 L819.9,411.3 L822.9,403.2 L825.9,395.6 L828.9,388.2 L831.9,380.5 L834.9,373.1 L837.9,366.4 L840.9,359.9 L843.9,353.6 L846.9,348.3 L849.9,343.1 L852.9,338.2 L855.9,334.0 L858.9,329.9 L861.9,326.1 L864.9,321.8 L867.9,317.5 L870.9,315.0 L873.9,313.3 L876.9,310.9 L879.9,308.5 L882.9,306.1 L885.9,304.0 L888.9,303.3 L891.9,303.5 L894.9,303.2 L897.9,302.6 L900.9,302.7 L903.9,303.1 L906.9,303.5 L909.9,305.0 L912.9,307.3 L915.9,308.9 L918.9,310.2 L921.9,312.2 L924.9,314.1 L927.9,316.3 L930.9,320.0 L933.9,325.0 L936.9,330.4 L939.9,335.9 L942.9,341.2 L945.9,346.3 L948.9,352.5 L951.9,359.7 L954.9,366.5 L957.9,372.7 L960.9,379.7 L963.9,387.8 L966.9,395.4 L969.9,402.2 L972.9,409.5 L975.9,417.1 L978.9,424.4 L981.9,431.5 L984.9,438.4 L987.9,444.4 L990.9,450.1 L993.9,455.7 L996.9,461.2 L999.9,467.7 L1002.9,474.6 L1005.9,480.6 L1008.9,486.5 L1011.9,492.8 L1014.9,499.0 L1017.9,505.9 L1020.9,513.1 L1023.9,519.5 L1026.9,525.6 L1029.9,532.4 L1032.9,538.8 L1035.9,544.0 L1038.9,548.9 L1041.9,552.9 L1044.9,557.1 L1047.9,562.0 L1050.9,566.5 L1053.9,570.8 L1056.9,575.6 L1059.9,581.0 L1062.9,586.9 L1065.9,591.7 L1068.9,594.8 L1071.9,597.9 L1074.9,601.7 L1077.9,604.9 L1080.9,607.4 L1083.9,610.4 L1086.9,613.4 L1089.9,615.7 L1092.9,617.5 L1095.9,619.5 L1098.9,622.0 L1101.9,624.9 L1104.9,627.7 L1107.9,630.2 L1110.9,632.8 L1113.9,635.4 L1116.9,637.3 L1119.9,639.4 L1122.9,641.8 L1125.9,643.9 L1128.9,646.4 L1131.9,648.6 L1134.9,650.6 L1137.9,652.9 L1140.9,654.7 L1143.9,656.5 L1146.9,658.7 L1149.9,661.7 L1152.9,665.5 L1155.9,669.1 L1158.9,672.1 L1161.9,673.7 L1164.9,674.0 L1167.9,674.2 L1170.9,675.3 L1173.9,676.5 L1176.9,677.2 L1179.9,677.9 L1182.9,679.5 L1185.9,681.7 L1188.9,683.4 L1191.9,684.6 L1194.9,685.9 L1197.9,687.6 L1200.9,688.6 L1203.9,688.8 L1206.9,688.7 L1209.9,688.0 L1212.9,687.5 L1215.9,687.5 L1218.9,687.1 L1221.9,686.6 L1224.9,686.3 L1227.9,686.4 L1230.9,687.0 L1233.9,687.5 L1236.9,688.0 L1239.9,688.4 L1242.9,688.2 L1245.9,689.0 L1248.9,690.3 L1251.9,690.2 L1254.9,690.7 L1257.9,692.3 L1260.9,693.0 L1263.9,693.2 L1266.9,693.8 L1269.9,693.6 L1272.9,693.2 L1275.9,692.9 L1278.9,692.0 L1281.9,690.7 L1284.9,689.4 L1287.9,688.0 L1290.9,686.6 L1293.9,684.8 L1296.9,682.1 L1299.9,677.8 L1302.9,672.7 L1305.9,668.3 L1308.9,665.7 L1311.9,664.3 L1314.9,662.3 L1317.9,659.8 L1320.9,656.8 L1323.9,652.9 L1326.9,648.7 L1329.9,644.1 L1332.9,639.4 L1335.9,634.4 L1338.9,628.7 L1341.9,622.5 L1344.9,615.6 L1347.9,608.7 L1350.9,602.4 L1353.9,595.6 L1356.9,587.3 L1359.9,578.9 L1362.9,571.6 L1365.9,564.4 L1368.9,556.6 L1371.9,549.2 L1374.9,541.9 L1377.9,534.3 L1380.9,527.1 L1383.9,518.9 L1386.9,509.7 L1389.9,500.4 L1392.9,491.0 L1395.9,482.1 L1398.9,473.7 L1401.9,465.1 L1404.9,456.0 L1407.9,446.7 L1410.9,437.4 L1413.9,428.1 L1416.9,418.9 L1419.9,411.0 L1422.9,404.4 L1425.9,398.0 L1428.9,392.4 L1431.9,388.9 L1434.9,387.3 L1437.9,385.8 L1440.9,384.7 L1443.9,385.9 L1446.9,389.3 L1449.9,393.4 L1452.9,398.2 L1455.9,404.8 L1458.9,413.5 L1461.9,423.9 L1464.9,435.0 L1467.9,446.9 L1470.9,460.3 L1473.9,474.6 L1476.9,488.9 L1479.9,503.5 L1482.9,519.1 L1485.9,535.2 L1488.9,551.6 L1491.9,568.4 L1494.9,585.5 L1497.9,602.8 L1500.9,620.1 L1503.9,637.5 L1506.9,654.1 L1509.9,669.8 L1512.9,685.6 L1515.9,701.5 L1518.9,715.9 L1521.9,729.7 L1524.9,742.9 L1527.9,754.4 L1530.9,764.7 L1533.9,774.2 L1536.9,783.1 L1539.9,791.9 L1542.9,799.7 L1545.9,805.4 L1548.9,809.6 L1551.9,812.9 L1554.9,816.2 L1557.9,819.8 L1560.9,822.7 L1563.9,824.9 L1566.9,827.3 L1569.9,829.7 L1572.9,831.4 L1575.9,832.4 L1578.9,833.2 L1581.9,834.0 L1584.9,835.5 L1587.9,837.7 L1590.9,839.0 L1593.9,839.5 L1596.9,840.7 L1599.9,842.1 L1602.9,842.8 L1605.9,843.4 L1608.9,844.4 L1611.9,845.3 L1614.9,846.2 L1617.9,846.5 L1620.9,846.6 L1623.9,847.2 L1626.9,847.8 L1629.9,848.3 L1632.9,849.5 L1635.9,850.8 L1638.9,851.5 L1641.9,852.5 L1644.9,853.0 L1647.9,852.9 L1650.9,852.8 L1653.9,852.7 L1656.9,852.1 L1659.9,851.2 L1662.9,850.7 L1665.9,851.2 L1668.9,852.1 L1671.9,852.4 L1674.9,852.5 L1677.9,853.3 L1680.9,854.6 L1683.9,856.4 L1686.9,858.9 L1689.9,861.2 L1692.9,862.9 L1695.9,865.3 L1698.9,867.4 L1701.9,868.7 L1704.9,870.1 L1707.9,871.7 L1710.9,873.5 L1713.9,874.9 L1716.9,876.3 L1719.9,878.3 L1722.9,880.4 L1725.9,882.2 L1728.9,883.6 L1731.9,884.6 L1734.9,885.3 L1737.9,885.8 L1740.9,885.8 L1743.9,886.0 L1746.9,886.8 L1749.9,887.7 L1752.9,887.7 L1755.9,886.9 L1758.9,887.3 L1761.9,887.9 L1764.9,887.6 L1767.9,888.3 L1770.9,889.7 L1773.9,890.0 L1776.9,890.2 L1779.9,891.3 L1782.9,891.9 L1785.9,891.2 L1788.9,889.9 L1791.9,888.6 L1794.9,887.9 L1797.9,888.4 L1800.9,889.6 L1803.9,891.1 L1806.9,892.8 L1809.9,893.7 L1812.9,894.9 L1815.9,897.5 L1818.9,900.3 L1821.9,902.5 L1824.9,904.2 L1827.9,906.2 L1830.9,908.2 L1833.9,909.5 L1836.9,910.6 L1839.9,911.2 L1842.9,911.8 L1845.9,912.5 L1848.9,912.6 L1851.9,914.0 L1854.9,916.4 L1857.9,918.5 L1860.9,920.5 L1863.9,921.7 L1866.9,922.6 L1869.9,923.2 L1872.9,922.5 L1875.9,921.3 L1878.9,920.5 L1881.9,920.3 L1884.9,920.7 L1887.9,920.9 L1890.9,920.9 L1893.9,921.4 L1896.9,922.1 L1899.9,922.7 L1902.9,924.0 L1905.9,925.6 L1908.9,927.3 L1911.9,928.9 L1914.9,929.8 L1917.9,930.7 L1920.9,931.9 L1923.9,932.2 L1926.9,932.1 L1929.9,932.2 L1932.9,932.7 L1935.9,933.8 L1938.9,935.5 L1941.9,937.3 L1944.9,938.5 L1947.9,939.9 L1950.9,940.6 L1953.9,940.8 L1956.9,942.5 L1959.9,944.8 L1962.9,946.3 L1965.9,947.8 L1968.9,949.9 L1971.9,951.6 L1974.9,953.1 L1977.9,955.4 L1980.9,957.4 L1983.9,958.4 L1986.9,959.8 L1989.9,961.9 L1992.9,963.4 L1995.9,964.6 L1998.9,965.7 L2001.9,966.5 L2004.9,967.1 L2007.9,967.2 L2010.9,967.1 L2013.9,966.8 L2016.9,967.0 L2019.9,968.6 L2022.9,970.7 L2025.9,973.0 L2028.9,975.4 L2031.9,976.4 L2034.9,977.6 L2037.9,979.8 L2040.9,981.2 L2043.9,982.1 L2046.9,983.0 L2049.9,984.1 L2052.9,984.9 L2055.9,985.2 L2058.9,985.4 L2061.9,985.9 L2064.9,986.6 L2067.9,986.3 L2070.9,985.7 L2073.9,986.4 L2076.9,987.7 L2079.9,988.8 L2082.9,990.1 L2085.9,991.2 L2088.9,991.9 L2091.9,992.3 L2094.9,993.2 L2097.9,994.0 L2100.9,994.2 L2103.9,994.9 L2106.9,995.9 L2109.9,995.6 L2112.9,995.1 L2115.9,995.7 L2118.9,996.0 L2121.9,996.2 L2124.9,996.6 L2127.9,996.5 L2130.9,996.6 L2133.9,997.4 L2136.9,998.5 L2139.9,999.3 L2142.9,1000.0 L2145.9,1000.1 L2148.9,999.9 L2151.9,1000.0 L2154.9,1000.6 L2157.9,1001.6 L2160.9,1003.9 L2163.9,1007.1 L2166.9,1009.5 L2169.9,1011.4 L2172.9,1013.1 L2175.9,1014.3 L2178.9,1015.2 L2181.9,1015.3 L2184.9,1015.4 L2187.9,1015.4 L2190.9,1015.4 L2193.9,1015.1 L2196.9,1014.6 L2199.9,1015.2 L2202.9,1016.8 L2205.9,1017.6 L2208.9,1018.4 L2211.9,1019.4 L2214.9,1020.2 L2217.9,1020.7 L2220.9,1021.2 L2223.9,1022.2 L2226.9,1023.4 L2229.9,1024.6 L2232.9,1025.2 L2235.9,1025.5 L2238.9,1026.1 L2241.9,1026.0 L2244.9,1025.5 L2247.9,1026.9 L2250.9,1029.4 L2253.9,1031.0 L2256.9,1031.7 L2259.9,1032.5 L2262.9,1033.4 L2265.9,1034.4 L2268.9,1034.5" stroke="#AA0000"/>
</g>
<g class="ax">
<line x1="144.9" y1="1940.0" x2="144.9" y2="1971"/>
<line x1="357.6" y1="1940.0" x2="357.6" y2="1971"/>
<line x1="570.2" y1="1940.0" x2="570.2" y2="1971"/>
<line x1="782.9" y1="1940.0" x2="782.9" y2="1971"/>
<line x1="995.5" y1="1940.0" x2="995.5" y2="1971"/>
<line x1="1208.2" y1="1940.0" x2="1208.2" y2="1971"/>
<line x1="1420.8" y1="1940.0" x2="1420.8" y2="1971"/>
<line x1="1633.5" y1="1940.0" x2="1633.5" y2="1971"/>
<line x1="1846.1" y1="1940.0" x2="1846.1" y2="1971"/>
<line x1="2058.8" y1="1940.0" x2="2058.8" y2="1971"/>
<line x1="2271.4" y1="1940.0" x2="2271.4" y2="1971"/>
</g>
<g>
<text transform="translate(144.9,2051.2) scale(1,1.015)" text-anchor="middle" font-size="76" stroke="#000">1000</text>
<text transform="translate(357.6,2051.2) scale(1,1.015)" text-anchor="middle" font-size="76" stroke="#000">1100</text>
<text transform="translate(570.2,2051.2) scale(1,1.015)" text-anchor="middle" font-size="76" stroke="#000">1200</text>
<text transform="translate(782.9,2051.2) scale(1,1.015)" text-anchor="middle" font-size="76" stroke="#000">1300</text>
<text transform="translate(995.5,2051.2) scale(1,1.015)" text-anchor="middle" font-size="76" stroke="#000">1400</text>
<text transform="translate(1208.2,2051.2) scale(1,1.015)" text-anchor="middle" font-size="76" stroke="#000">1500</text>
<text transform="translate(1420.8,2051.2) scale(1,1.015)" text-anchor="middle" font-size="76" stroke="#000">1600</text>
<text transform="translate(1633.5,2051.2) scale(1,1.015)" text-anchor="middle" font-size="76" stroke="#000">1700</text>
<text transform="translate(1846.1,2051.2) scale(1,1.015)" text-anchor="middle" font-size="76" stroke="#000">1800</text>
<text transform="translate(2058.8,2051.2) scale(1,1.015)" text-anchor="middle" font-size="76" stroke="#000">1900</text>
<text transform="translate(2271.4,2051.2) scale(1,1.015)" text-anchor="middle" font-size="76" stroke="#000">2000</text>
</g>
<rect x="334.0" y="44.3" width="1748.3" height="199.9" fill="#fff" stroke="#000" stroke-width="6.5"/>
<g>
<line x1="345.6" y1="97.3" x2="515.3" y2="97.3" stroke="#000000" stroke-width="7" stroke-linecap="round"/>
<text transform="translate(536.4,122.2) scale(1,1.035)" fill="#000000" stroke="#000000">GO</text>
<line x1="676.8" y1="97.3" x2="847.4" y2="97.3" stroke="#B26BFD" stroke-width="7" stroke-linecap="round"/>
<text transform="translate(868.6,122.2) scale(1,1.035)" fill="#B26BFD" stroke="#B26BFD">SGO-1</text>
<line x1="1128.4" y1="97.3" x2="1298.9" y2="97.3" stroke="#0050FF" stroke-width="7" stroke-linecap="round"/>
<text transform="translate(1319.5,122.2) scale(1,1.035)" fill="#0050FF" stroke="#0050FF">SGO-2.5</text>
<line x1="1643.5" y1="97.3" x2="1813.2" y2="97.3" stroke="#4AB9FC" stroke-width="7" stroke-linecap="round"/>
<text transform="translate(1833.8,122.2) scale(1,1.035)" fill="#4AB9FC" stroke="#4AB9FC">SGO-5</text>
<line x1="479.6" y1="191.4" x2="649.7" y2="191.4" stroke="#279300" stroke-width="7" stroke-linecap="round"/>
<text transform="translate(668.9,217.0) scale(1,1.035)" fill="#279300" stroke="#279300">SGO-10</text>
<line x1="972.8" y1="191.4" x2="1143.5" y2="191.4" stroke="#E47A00" stroke-width="7" stroke-linecap="round"/>
<text transform="translate(1163.6,217.0) scale(1,1.035)" fill="#E47A00" stroke="#E47A00">SGO-15</text>
<line x1="1466.4" y1="191.4" x2="1637.0" y2="191.4" stroke="#AA0000" stroke-width="7" stroke-linecap="round"/>
<text transform="translate(1657.2,217.0) scale(1,1.035)" fill="#AA0000" stroke="#AA0000">SGO-20</text>
</g>
<text id="xl" stroke="#000" transform="translate(893.7,2163) scale(1,1.035)">Raman shift (cm<tspan font-size="49" dy="-32">-1</tspan><tspan dy="32" dx="4">)</tspan></text>
<text id="yl" stroke="#000" transform="translate(77.1,1105.5) rotate(-90) scale(1,1.035)" text-anchor="middle">Intensity (a.u.)</text>
</svg>
</body></html>
